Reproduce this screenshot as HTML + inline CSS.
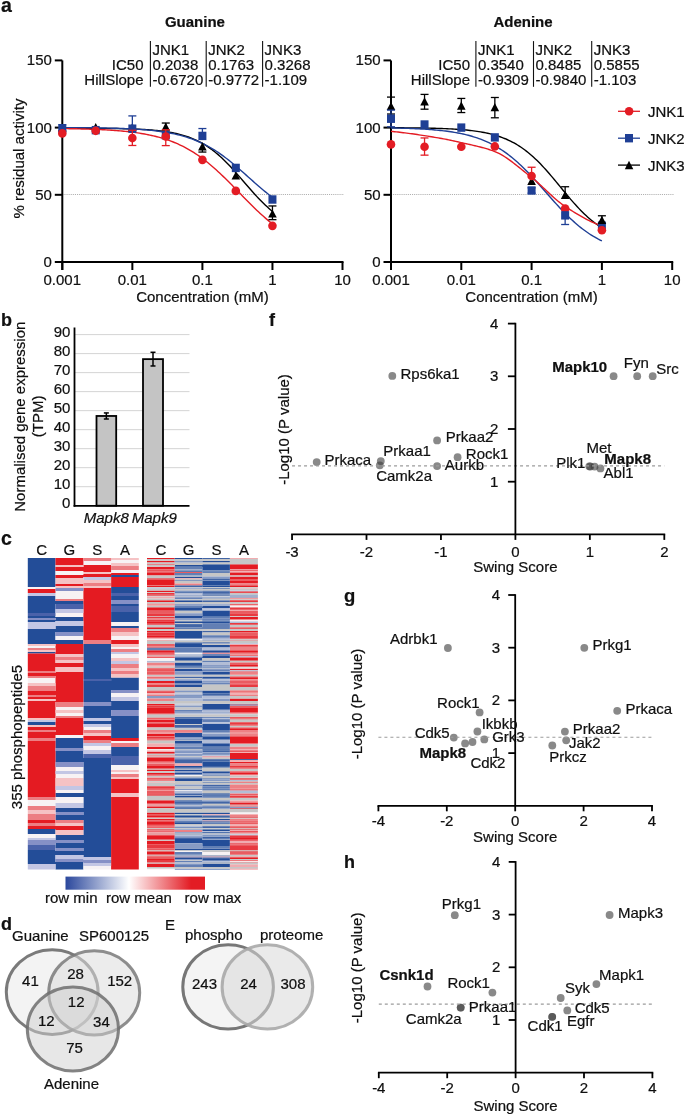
<!DOCTYPE html>
<html><head><meta charset="utf-8"><style>html,body{margin:0;padding:0;background:#fff;}svg{display:block;will-change:transform;}text{font-family:"Liberation Sans", sans-serif;stroke:currentColor;stroke-width:0.2px;}</style></head>
<body><svg width="685" height="1116" viewBox="0 0 685 1116">
<rect width="685" height="1116" fill="#fff"/>
<text x="1" y="12" font-size="19.5" font-weight="bold" fill="#111" stroke="#111">a</text>
<text x="23.8" y="158.6" font-size="15" text-anchor="middle" fill="#111" stroke="#111" transform="rotate(-90 23.8 158.6)">% residual activity</text>
<text x="194.89999999999998" y="27.3" font-size="15" text-anchor="middle" font-weight="bold" fill="#111" stroke="#111">Guanine</text>
<line x1="150.4" y1="41.1" x2="150.4" y2="86.8" stroke="#111" stroke-width="1.1"/>
<line x1="206.2" y1="41.1" x2="206.2" y2="86.8" stroke="#111" stroke-width="1.1"/>
<line x1="262.6" y1="41.1" x2="262.6" y2="86.8" stroke="#111" stroke-width="1.1"/>
<text x="143.5" y="69.8" font-size="15" text-anchor="end" fill="#111" stroke="#111">IC50</text>
<text x="143.5" y="84.6" font-size="15" text-anchor="end" fill="#111" stroke="#111">HillSlope</text>
<text x="152.4" y="55.2" font-size="15" fill="#111" stroke="#111">JNK1</text>
<text x="152.4" y="69.8" font-size="15" fill="#111" stroke="#111">0.2038</text>
<text x="152.4" y="84.6" font-size="15" fill="#111" stroke="#111">-0.6720</text>
<text x="208.2" y="55.2" font-size="15" fill="#111" stroke="#111">JNK2</text>
<text x="208.2" y="69.8" font-size="15" fill="#111" stroke="#111">0.1763</text>
<text x="208.2" y="84.6" font-size="15" fill="#111" stroke="#111">-0.9772</text>
<text x="264.6" y="55.2" font-size="15" fill="#111" stroke="#111">JNK3</text>
<text x="264.6" y="69.8" font-size="15" fill="#111" stroke="#111">0.3268</text>
<text x="264.6" y="84.6" font-size="15" fill="#111" stroke="#111">-1.109</text>
<line x1="62.3" y1="194.5" x2="344.0" y2="194.5" stroke="#b0b0b0" stroke-width="1.1" stroke-dasharray="1.1,1.0"/>
<line x1="62.3" y1="60.4" x2="62.3" y2="270.0" stroke="#000" stroke-width="2"/>
<line x1="61.3" y1="262.0" x2="343.5" y2="262.0" stroke="#000" stroke-width="2"/>
<line x1="54.8" y1="262.0" x2="62.3" y2="262.0" stroke="#000" stroke-width="2"/>
<text x="51.9" y="266.9" font-size="15" text-anchor="end" fill="#111" stroke="#111">0</text>
<line x1="54.8" y1="194.8" x2="62.3" y2="194.8" stroke="#000" stroke-width="2"/>
<text x="51.9" y="199.70000000000002" font-size="15" text-anchor="end" fill="#111" stroke="#111">50</text>
<line x1="54.8" y1="127.6" x2="62.3" y2="127.6" stroke="#000" stroke-width="2"/>
<text x="51.9" y="132.5" font-size="15" text-anchor="end" fill="#111" stroke="#111">100</text>
<line x1="54.8" y1="60.39999999999998" x2="62.3" y2="60.39999999999998" stroke="#000" stroke-width="2"/>
<text x="51.9" y="65.29999999999998" font-size="15" text-anchor="end" fill="#111" stroke="#111">150</text>
<line x1="62.3" y1="262.0" x2="62.3" y2="270.0" stroke="#000" stroke-width="2"/>
<text x="62.3" y="285.2" font-size="15" text-anchor="middle" fill="#111" stroke="#111">0.001</text>
<line x1="132.35" y1="262.0" x2="132.35" y2="270.0" stroke="#000" stroke-width="2"/>
<text x="132.35" y="285.2" font-size="15" text-anchor="middle" fill="#111" stroke="#111">0.01</text>
<line x1="202.39999999999998" y1="262.0" x2="202.39999999999998" y2="270.0" stroke="#000" stroke-width="2"/>
<text x="202.39999999999998" y="285.2" font-size="15" text-anchor="middle" fill="#111" stroke="#111">0.1</text>
<line x1="272.45" y1="262.0" x2="272.45" y2="270.0" stroke="#000" stroke-width="2"/>
<text x="272.45" y="285.2" font-size="15" text-anchor="middle" fill="#111" stroke="#111">1</text>
<line x1="342.5" y1="262.0" x2="342.5" y2="270.0" stroke="#000" stroke-width="2"/>
<text x="342.5" y="285.2" font-size="15" text-anchor="middle" fill="#111" stroke="#111">10</text>
<text x="202.39999999999998" y="301.5" font-size="15" text-anchor="middle" fill="#111" stroke="#111">Concentration (mM)</text>
<polyline points="62.30,128.15 64.05,128.15 65.80,128.16 67.55,128.16 69.31,128.16 71.06,128.17 72.81,128.17 74.56,128.18 76.31,128.18 78.06,128.19 79.81,128.20 81.56,128.20 83.31,128.21 85.07,128.22 86.82,128.23 88.57,128.24 90.32,128.25 92.07,128.26 93.82,128.27 95.57,128.28 97.32,128.30 99.08,128.31 100.83,128.33 102.58,128.34 104.33,128.36 106.08,128.38 107.83,128.40 109.58,128.43 111.34,128.45 113.09,128.48 114.84,128.51 116.59,128.54 118.34,128.57 120.09,128.61 121.84,128.65 123.59,128.69 125.34,128.74 127.10,128.79 128.85,128.84 130.60,128.90 132.35,128.96 134.10,129.02 135.85,129.10 137.60,129.17 139.36,129.26 141.11,129.35 142.86,129.44 144.61,129.55 146.36,129.66 148.11,129.78 149.86,129.91 151.61,130.05 153.37,130.20 155.12,130.36 156.87,130.53 158.62,130.72 160.37,130.92 162.12,131.13 163.87,131.36 165.62,131.61 167.38,131.88 169.13,132.16 170.88,132.47 172.63,132.80 174.38,133.15 176.13,133.53 177.88,133.93 179.63,134.36 181.38,134.83 183.14,135.32 184.89,135.85 186.64,136.41 188.39,137.01 190.14,137.65 191.89,138.33 193.64,139.06 195.39,139.82 197.15,140.64 198.90,141.50 200.65,142.42 202.40,143.39 204.15,144.41 205.90,145.49 207.65,146.62 209.40,147.81 211.16,149.06 212.91,150.37 214.66,151.74 216.41,153.17 218.16,154.65 219.91,156.20 221.66,157.80 223.42,159.46 225.17,161.17 226.92,162.93 228.67,164.74 230.42,166.59 232.17,168.48 233.92,170.41 235.67,172.37 237.43,174.36 239.18,176.37 240.93,178.39 242.68,180.42 244.43,182.46 246.18,184.49 247.93,186.52 249.68,188.54 251.44,190.53 253.19,192.50 254.94,194.44 256.69,196.35 258.44,198.21 260.19,200.04 261.94,201.82 263.69,203.55 265.44,205.22 267.20,206.85 268.95,208.41 270.70,209.92 272.45,211.37" fill="none" stroke="#000" stroke-width="1.4"/>
<polyline points="62.30,127.59 64.05,127.60 65.80,127.61 67.55,127.62 69.31,127.63 71.06,127.64 72.81,127.65 74.56,127.66 76.31,127.67 78.06,127.69 79.81,127.70 81.56,127.71 83.31,127.73 85.07,127.75 86.82,127.76 88.57,127.78 90.32,127.80 92.07,127.83 93.82,127.85 95.57,127.87 97.32,127.90 99.08,127.93 100.83,127.96 102.58,127.99 104.33,128.02 106.08,128.06 107.83,128.10 109.58,128.14 111.34,128.18 113.09,128.22 114.84,128.27 116.59,128.32 118.34,128.38 120.09,128.44 121.84,128.50 123.59,128.57 125.34,128.64 127.10,128.71 128.85,128.79 130.60,128.88 132.35,128.97 134.10,129.06 135.85,129.16 137.60,129.27 139.36,129.39 141.11,129.51 142.86,129.64 144.61,129.78 146.36,129.92 148.11,130.08 149.86,130.24 151.61,130.42 153.37,130.60 155.12,130.80 156.87,131.01 158.62,131.23 160.37,131.47 162.12,131.72 163.87,131.98 165.62,132.26 167.38,132.55 169.13,132.87 170.88,133.20 172.63,133.55 174.38,133.92 176.13,134.31 177.88,134.72 179.63,135.16 181.38,135.61 183.14,136.10 184.89,136.61 186.64,137.15 188.39,137.71 190.14,138.30 191.89,138.93 193.64,139.58 195.39,140.27 197.15,140.99 198.90,141.74 200.65,142.53 202.40,143.35 204.15,144.21 205.90,145.11 207.65,146.04 209.40,147.01 211.16,148.02 212.91,149.07 214.66,150.15 216.41,151.28 218.16,152.44 219.91,153.63 221.66,154.87 223.42,156.14 225.17,157.44 226.92,158.78 228.67,160.15 230.42,161.54 232.17,162.97 233.92,164.42 235.67,165.90 237.43,167.40 239.18,168.91 240.93,170.44 242.68,171.99 244.43,173.55 246.18,175.11 247.93,176.68 249.68,178.24 251.44,179.81 253.19,181.37 254.94,182.93 256.69,184.47 258.44,186.00 260.19,187.51 261.94,189.00 263.69,190.47 265.44,191.91 267.20,193.33 268.95,194.72 270.70,196.08 272.45,197.41" fill="none" stroke="#1f3f95" stroke-width="1.4"/>
<polyline points="62.30,128.57 64.05,128.59 65.80,128.62 67.55,128.65 69.31,128.68 71.06,128.71 72.81,128.74 74.56,128.78 76.31,128.82 78.06,128.85 79.81,128.90 81.56,128.94 83.31,128.99 85.07,129.04 86.82,129.09 88.57,129.15 90.32,129.20 92.07,129.27 93.82,129.33 95.57,129.40 97.32,129.47 99.08,129.55 100.83,129.63 102.58,129.72 104.33,129.81 106.08,129.91 107.83,130.01 109.58,130.11 111.34,130.23 113.09,130.35 114.84,130.47 116.59,130.61 118.34,130.75 120.09,130.89 121.84,131.05 123.59,131.22 125.34,131.39 127.10,131.57 128.85,131.77 130.60,131.97 132.35,132.19 134.10,132.41 135.85,132.65 137.60,132.90 139.36,133.17 141.11,133.45 142.86,133.74 144.61,134.05 146.36,134.38 148.11,134.72 149.86,135.08 151.61,135.46 153.37,135.86 155.12,136.28 156.87,136.72 158.62,137.18 160.37,137.67 162.12,138.17 163.87,138.71 165.62,139.27 167.38,139.85 169.13,140.46 170.88,141.10 172.63,141.77 174.38,142.48 176.13,143.21 177.88,143.97 179.63,144.77 181.38,145.60 183.14,146.47 184.89,147.37 186.64,148.31 188.39,149.28 190.14,150.29 191.89,151.34 193.64,152.43 195.39,153.56 197.15,154.72 198.90,155.93 200.65,157.17 202.40,158.45 204.15,159.77 205.90,161.13 207.65,162.53 209.40,163.96 211.16,165.43 212.91,166.94 214.66,168.48 216.41,170.05 218.16,171.65 219.91,173.29 221.66,174.95 223.42,176.63 225.17,178.34 226.92,180.07 228.67,181.82 230.42,183.58 232.17,185.36 233.92,187.15 235.67,188.95 237.43,190.75 239.18,192.55 240.93,194.36 242.68,196.16 244.43,197.96 246.18,199.75 247.93,201.52 249.68,203.28 251.44,205.03 253.19,206.76 254.94,208.46 256.69,210.14 258.44,211.80 260.19,213.42 261.94,215.02 263.69,216.59 265.44,218.12 267.20,219.62 268.95,221.09 270.70,222.51 272.45,223.91" fill="none" stroke="#e31c24" stroke-width="1.4"/>
<path d="M62.30,123.00L66.60,131.20L58.00,131.20Z" fill="#000"/>
<line x1="62.3" y1="124.64319999999998" x2="62.3" y2="131.36319999999998" stroke="#1f3f95" stroke-width="1.3"/>
<line x1="58.3" y1="124.64319999999998" x2="66.3" y2="124.64319999999998" stroke="#1f3f95" stroke-width="1.3"/>
<line x1="58.3" y1="131.36319999999998" x2="66.3" y2="131.36319999999998" stroke="#1f3f95" stroke-width="1.3"/>
<rect x="58.30" y="124.48" width="8" height="8.4" fill="#1f3f95"/>
<circle cx="62.30" cy="133.38" r="4.3" fill="#e31c24"/>
<path d="M95.72,123.00L100.02,131.20L91.42,131.20Z" fill="#000"/>
<rect x="91.72" y="125.95" width="8" height="8.4" fill="#1f3f95"/>
<circle cx="95.72" cy="130.83" r="4.3" fill="#e31c24"/>
<path d="M132.35,123.00L136.65,131.20L128.05,131.20Z" fill="#000"/>
<line x1="132.35" y1="115.90719999999999" x2="132.35" y2="128.6752" stroke="#1f3f95" stroke-width="1.3"/>
<line x1="128.35" y1="115.90719999999999" x2="136.35" y2="115.90719999999999" stroke="#1f3f95" stroke-width="1.3"/>
<rect x="128.35" y="124.48" width="8" height="8.4" fill="#1f3f95"/>
<line x1="132.35" y1="130.28799999999998" x2="132.35" y2="145.47519999999997" stroke="#e31c24" stroke-width="1.3"/>
<line x1="128.35" y1="130.28799999999998" x2="136.35" y2="130.28799999999998" stroke="#e31c24" stroke-width="1.3"/>
<line x1="128.35" y1="145.47519999999997" x2="136.35" y2="145.47519999999997" stroke="#e31c24" stroke-width="1.3"/>
<circle cx="132.35" cy="138.08" r="4.3" fill="#e31c24"/>
<line x1="165.77234389311235" y1="123.03039999999999" x2="165.77234389311235" y2="127.0624" stroke="#000" stroke-width="1.3"/>
<line x1="161.77234389311235" y1="123.03039999999999" x2="169.77234389311235" y2="123.03039999999999" stroke="#000" stroke-width="1.3"/>
<path d="M165.77,122.46L170.07,130.66L161.47,130.66Z" fill="#000"/>
<rect x="161.77" y="131.06" width="8" height="8.4" fill="#1f3f95"/>
<line x1="165.77234389311235" y1="129.75039999999998" x2="165.77234389311235" y2="145.6096" stroke="#e31c24" stroke-width="1.3"/>
<line x1="161.77234389311235" y1="129.75039999999998" x2="169.77234389311235" y2="129.75039999999998" stroke="#e31c24" stroke-width="1.3"/>
<line x1="161.77234389311235" y1="145.6096" x2="169.77234389311235" y2="145.6096" stroke="#e31c24" stroke-width="1.3"/>
<circle cx="165.77" cy="136.47" r="4.3" fill="#e31c24"/>
<line x1="202.39999999999998" y1="146.9536" x2="202.39999999999998" y2="152.0608" stroke="#000" stroke-width="1.3"/>
<line x1="198.39999999999998" y1="152.0608" x2="206.39999999999998" y2="152.0608" stroke="#000" stroke-width="1.3"/>
<path d="M202.40,142.35L206.70,150.55L198.10,150.55Z" fill="#000"/>
<line x1="202.39999999999998" y1="128.5408" x2="202.39999999999998" y2="135.9328" stroke="#1f3f95" stroke-width="1.3"/>
<line x1="198.39999999999998" y1="128.5408" x2="206.39999999999998" y2="128.5408" stroke="#1f3f95" stroke-width="1.3"/>
<rect x="198.40" y="131.73" width="8" height="8.4" fill="#1f3f95"/>
<circle cx="202.40" cy="159.86" r="4.3" fill="#e31c24"/>
<path d="M235.82,171.38L240.12,179.58L231.52,179.58Z" fill="#000"/>
<rect x="231.82" y="163.72" width="8" height="8.4" fill="#1f3f95"/>
<circle cx="235.82" cy="190.90" r="4.3" fill="#e31c24"/>
<line x1="272.45" y1="205.9552" x2="272.45" y2="219.664" stroke="#000" stroke-width="1.3"/>
<line x1="268.45" y1="205.9552" x2="276.45" y2="205.9552" stroke="#000" stroke-width="1.3"/>
<line x1="268.45" y1="219.664" x2="276.45" y2="219.664" stroke="#000" stroke-width="1.3"/>
<path d="M272.45,209.42L276.75,217.62L268.15,217.62Z" fill="#000"/>
<rect x="268.45" y="195.30" width="8" height="8.4" fill="#1f3f95"/>
<circle cx="272.45" cy="225.85" r="4.3" fill="#e31c24"/>
<text x="523.0" y="27.3" font-size="15" text-anchor="middle" font-weight="bold" fill="#111" stroke="#111">Adenine</text>
<line x1="475.9" y1="41.1" x2="475.9" y2="86.8" stroke="#111" stroke-width="1.1"/>
<line x1="533.5" y1="41.1" x2="533.5" y2="86.8" stroke="#111" stroke-width="1.1"/>
<line x1="591.7" y1="41.1" x2="591.7" y2="86.8" stroke="#111" stroke-width="1.1"/>
<text x="470" y="69.8" font-size="15" text-anchor="end" fill="#111" stroke="#111">IC50</text>
<text x="470" y="84.6" font-size="15" text-anchor="end" fill="#111" stroke="#111">HillSlope</text>
<text x="477.9" y="55.2" font-size="15" fill="#111" stroke="#111">JNK1</text>
<text x="477.9" y="69.8" font-size="15" fill="#111" stroke="#111">0.3540</text>
<text x="477.9" y="84.6" font-size="15" fill="#111" stroke="#111">-0.9309</text>
<text x="535.5" y="55.2" font-size="15" fill="#111" stroke="#111">JNK2</text>
<text x="535.5" y="69.8" font-size="15" fill="#111" stroke="#111">0.8485</text>
<text x="535.5" y="84.6" font-size="15" fill="#111" stroke="#111">-0.9840</text>
<text x="593.7" y="55.2" font-size="15" fill="#111" stroke="#111">JNK3</text>
<text x="593.7" y="69.8" font-size="15" fill="#111" stroke="#111">0.5855</text>
<text x="593.7" y="84.6" font-size="15" fill="#111" stroke="#111">-1.103</text>
<line x1="391" y1="194.5" x2="673.7" y2="194.5" stroke="#b0b0b0" stroke-width="1.1" stroke-dasharray="1.1,1.0"/>
<line x1="391" y1="60.4" x2="391" y2="270.0" stroke="#000" stroke-width="2"/>
<line x1="390" y1="262.0" x2="673.2" y2="262.0" stroke="#000" stroke-width="2"/>
<line x1="383.5" y1="262.0" x2="391" y2="262.0" stroke="#000" stroke-width="2"/>
<text x="380.6" y="266.9" font-size="15" text-anchor="end" fill="#111" stroke="#111">0</text>
<line x1="383.5" y1="194.8" x2="391" y2="194.8" stroke="#000" stroke-width="2"/>
<text x="380.6" y="199.70000000000002" font-size="15" text-anchor="end" fill="#111" stroke="#111">50</text>
<line x1="383.5" y1="127.6" x2="391" y2="127.6" stroke="#000" stroke-width="2"/>
<text x="380.6" y="132.5" font-size="15" text-anchor="end" fill="#111" stroke="#111">100</text>
<line x1="383.5" y1="60.39999999999998" x2="391" y2="60.39999999999998" stroke="#000" stroke-width="2"/>
<text x="380.6" y="65.29999999999998" font-size="15" text-anchor="end" fill="#111" stroke="#111">150</text>
<line x1="391.0" y1="262.0" x2="391.0" y2="270.0" stroke="#000" stroke-width="2"/>
<text x="391.0" y="285.2" font-size="15" text-anchor="middle" fill="#111" stroke="#111">0.001</text>
<line x1="461.3" y1="262.0" x2="461.3" y2="270.0" stroke="#000" stroke-width="2"/>
<text x="461.3" y="285.2" font-size="15" text-anchor="middle" fill="#111" stroke="#111">0.01</text>
<line x1="531.6" y1="262.0" x2="531.6" y2="270.0" stroke="#000" stroke-width="2"/>
<text x="531.6" y="285.2" font-size="15" text-anchor="middle" fill="#111" stroke="#111">0.1</text>
<line x1="601.9" y1="262.0" x2="601.9" y2="270.0" stroke="#000" stroke-width="2"/>
<text x="601.9" y="285.2" font-size="15" text-anchor="middle" fill="#111" stroke="#111">1</text>
<line x1="672.2" y1="262.0" x2="672.2" y2="270.0" stroke="#000" stroke-width="2"/>
<text x="672.2" y="285.2" font-size="15" text-anchor="middle" fill="#111" stroke="#111">10</text>
<text x="531.6" y="301.5" font-size="15" text-anchor="middle" fill="#111" stroke="#111">Concentration (mM)</text>
<polyline points="391.00,127.74 392.76,127.75 394.51,127.76 396.27,127.77 398.03,127.78 399.79,127.79 401.55,127.80 403.30,127.82 405.06,127.83 406.82,127.85 408.57,127.86 410.33,127.88 412.09,127.90 413.85,127.92 415.61,127.94 417.36,127.96 419.12,127.98 420.88,128.01 422.63,128.04 424.39,128.07 426.15,128.10 427.91,128.14 429.66,128.17 431.42,128.21 433.18,128.26 434.94,128.30 436.69,128.35 438.45,128.41 440.21,128.47 441.97,128.53 443.73,128.59 445.48,128.67 447.24,128.74 449.00,128.83 450.75,128.91 452.51,129.01 454.27,129.11 456.03,129.22 457.79,129.34 459.54,129.46 461.30,129.60 463.06,129.75 464.81,129.90 466.57,130.07 468.33,130.25 470.09,130.44 471.85,130.64 473.60,130.86 475.36,131.10 477.12,131.35 478.88,131.62 480.63,131.91 482.39,132.22 484.15,132.55 485.90,132.91 487.66,133.28 489.42,133.69 491.18,134.12 492.94,134.58 494.69,135.06 496.45,135.59 498.21,136.14 499.97,136.73 501.72,137.36 503.48,138.03 505.24,138.73 507.00,139.49 508.75,140.28 510.51,141.12 512.27,142.02 514.02,142.96 515.78,143.95 517.54,145.00 519.30,146.10 521.06,147.26 522.81,148.47 524.57,149.75 526.33,151.08 528.09,152.47 529.84,153.93 531.60,155.44 533.36,157.01 535.12,158.64 536.87,160.33 538.63,162.07 540.39,163.86 542.14,165.71 543.90,167.61 545.66,169.55 547.42,171.53 549.17,173.54 550.93,175.60 552.69,177.67 554.45,179.78 556.21,181.90 557.96,184.03 559.72,186.17 561.48,188.31 563.24,190.45 564.99,192.57 566.75,194.69 568.51,196.78 570.26,198.84 572.02,200.88 573.78,202.88 575.54,204.84 577.30,206.75 579.05,208.62 580.81,210.44 582.57,212.21 584.33,213.93 586.08,215.58 587.84,217.18 589.60,218.72 591.36,220.20 593.11,221.63 594.87,222.99 596.63,224.29 598.38,225.53 600.14,226.72 601.90,227.85" fill="none" stroke="#000" stroke-width="1.4"/>
<polyline points="391.00,127.94 392.76,127.97 394.51,128.01 396.27,128.05 398.03,128.09 399.79,128.14 401.55,128.18 403.30,128.24 405.06,128.29 406.82,128.35 408.57,128.41 410.33,128.47 412.09,128.54 413.85,128.61 415.61,128.69 417.36,128.77 419.12,128.86 420.88,128.95 422.63,129.05 424.39,129.15 426.15,129.26 427.91,129.38 429.66,129.51 431.42,129.64 433.18,129.78 434.94,129.93 436.69,130.09 438.45,130.26 440.21,130.44 441.97,130.63 443.73,130.83 445.48,131.04 447.24,131.27 449.00,131.51 450.75,131.77 452.51,132.04 454.27,132.32 456.03,132.63 457.79,132.95 459.54,133.29 461.30,133.64 463.06,134.02 464.81,134.43 466.57,134.85 468.33,135.30 470.09,135.77 471.85,136.27 473.60,136.80 475.36,137.35 477.12,137.94 478.88,138.56 480.63,139.20 482.39,139.89 484.15,140.61 485.90,141.36 487.66,142.15 489.42,142.98 491.18,143.85 492.94,144.77 494.69,145.72 496.45,146.72 498.21,147.76 499.97,148.85 501.72,149.98 503.48,151.16 505.24,152.39 507.00,153.66 508.75,154.99 510.51,156.36 512.27,157.77 514.02,159.24 515.78,160.75 517.54,162.31 519.30,163.91 521.06,165.56 522.81,167.25 524.57,168.98 526.33,170.75 528.09,172.55 529.84,174.39 531.60,176.26 533.36,178.16 535.12,180.09 536.87,182.03 538.63,184.00 540.39,185.98 542.14,187.97 543.90,189.97 545.66,191.97 547.42,193.97 549.17,195.97 550.93,197.96 552.69,199.94 554.45,201.91 556.21,203.86 557.96,205.78 559.72,207.68 561.48,209.55 563.24,211.39 564.99,213.19 566.75,214.96 568.51,216.69 570.26,218.38 572.02,220.03 573.78,221.63 575.54,223.19 577.30,224.70 579.05,226.17 580.81,227.59 582.57,228.96 584.33,230.28 586.08,231.55 587.84,232.78 589.60,233.96 591.36,235.09 593.11,236.18 594.87,237.22 596.63,238.22 598.38,239.18 600.14,240.09 601.90,240.96" fill="none" stroke="#1f3f95" stroke-width="1.4"/>
<polyline points="391.00,131.36 392.75,131.53 394.50,131.70 396.25,131.88 398.00,132.07 399.75,132.27 401.50,132.47 403.25,132.68 405.00,132.89 406.75,133.11 408.50,133.34 410.25,133.57 412.00,133.81 413.75,134.05 415.50,134.30 417.25,134.56 419.00,134.82 420.75,135.08 422.50,135.35 424.25,135.62 426.00,135.90 427.75,136.17 429.50,136.46 431.25,136.74 433.00,137.03 434.75,137.33 436.50,137.62 438.25,137.92 440.00,138.22 441.75,138.52 443.50,138.85 445.25,139.18 447.00,139.52 448.75,139.88 450.50,140.25 452.25,140.62 454.00,141.00 455.75,141.39 457.50,141.78 459.25,142.18 461.00,142.58 462.75,142.98 464.50,143.38 466.25,143.77 467.99,144.15 469.74,144.54 471.49,144.93 473.24,145.32 474.99,145.72 476.74,146.13 478.49,146.56 480.24,147.00 481.99,147.45 483.74,147.93 485.49,148.42 487.24,148.95 488.99,149.49 490.74,150.07 492.49,150.68 494.24,151.33 495.99,152.03 497.74,152.82 499.49,153.69 501.24,154.64 502.99,155.67 504.74,156.75 506.49,157.90 508.24,159.10 509.99,160.35 511.74,161.64 513.49,162.97 515.24,164.33 516.99,165.71 518.74,167.11 520.49,168.53 522.24,169.95 523.99,171.37 525.74,172.79 527.49,174.20 529.24,175.60 530.99,176.97 532.74,178.35 534.49,179.80 536.24,181.31 537.99,182.85 539.74,184.44 541.49,186.05 543.24,187.68 544.99,189.33 546.74,190.98 548.49,192.62 550.24,194.25 551.99,195.86 553.74,197.44 555.49,198.98 557.24,200.48 558.99,201.92 560.74,203.29 562.49,204.60 564.24,205.83 565.99,207.00 567.74,208.15 569.49,209.29 571.24,210.41 572.99,211.51 574.74,212.59 576.49,213.65 578.24,214.70 579.99,215.71 581.74,216.71 583.49,217.68 585.24,218.63 586.99,219.55 588.74,220.44 590.49,221.31 592.24,222.14 593.99,222.95 595.74,223.72 597.49,224.46 599.24,225.17 600.99,225.85" fill="none" stroke="#e31c24" stroke-width="1.4"/>
<circle cx="391.00" cy="144.40" r="4.3" fill="#e31c24"/>
<line x1="391.0" y1="97.09119999999999" x2="391.0" y2="114.02559999999997" stroke="#000" stroke-width="1.3"/>
<line x1="387.0" y1="97.09119999999999" x2="395.0" y2="97.09119999999999" stroke="#000" stroke-width="1.3"/>
<line x1="387.0" y1="114.02559999999997" x2="395.0" y2="114.02559999999997" stroke="#000" stroke-width="1.3"/>
<path d="M391.00,101.90L395.30,110.10L386.70,110.10Z" fill="#000"/>
<line x1="391.0" y1="110.12799999999999" x2="391.0" y2="126.7936" stroke="#1f3f95" stroke-width="1.3"/>
<line x1="387.0" y1="110.12799999999999" x2="395.0" y2="110.12799999999999" stroke="#1f3f95" stroke-width="1.3"/>
<line x1="387.0" y1="126.7936" x2="395.0" y2="126.7936" stroke="#1f3f95" stroke-width="1.3"/>
<rect x="387.00" y="114.53" width="8" height="8.4" fill="#1f3f95"/>
<line x1="424.5416242067923" y1="137.9488" x2="424.5416242067923" y2="155.152" stroke="#e31c24" stroke-width="1.3"/>
<line x1="420.5416242067923" y1="137.9488" x2="428.5416242067923" y2="137.9488" stroke="#e31c24" stroke-width="1.3"/>
<line x1="420.5416242067923" y1="155.152" x2="428.5416242067923" y2="155.152" stroke="#e31c24" stroke-width="1.3"/>
<circle cx="424.54" cy="146.68" r="4.3" fill="#e31c24"/>
<rect x="420.54" y="120.31" width="8" height="8.4" fill="#1f3f95"/>
<line x1="424.5416242067923" y1="94.4032" x2="424.5416242067923" y2="109.18719999999999" stroke="#000" stroke-width="1.3"/>
<line x1="420.5416242067923" y1="94.4032" x2="428.5416242067923" y2="94.4032" stroke="#000" stroke-width="1.3"/>
<line x1="420.5416242067923" y1="109.18719999999999" x2="428.5416242067923" y2="109.18719999999999" stroke="#000" stroke-width="1.3"/>
<path d="M424.54,97.20L428.84,105.40L420.24,105.40Z" fill="#000"/>
<circle cx="461.30" cy="146.68" r="4.3" fill="#e31c24"/>
<rect x="457.30" y="123.40" width="8" height="8.4" fill="#1f3f95"/>
<line x1="461.3" y1="98.43519999999998" x2="461.3" y2="112.54719999999998" stroke="#000" stroke-width="1.3"/>
<line x1="457.3" y1="98.43519999999998" x2="465.3" y2="98.43519999999998" stroke="#000" stroke-width="1.3"/>
<line x1="457.3" y1="112.54719999999998" x2="465.3" y2="112.54719999999998" stroke="#000" stroke-width="1.3"/>
<path d="M461.30,101.50L465.60,109.70L457.00,109.70Z" fill="#000"/>
<circle cx="494.84" cy="146.42" r="4.3" fill="#e31c24"/>
<rect x="490.84" y="133.21" width="8" height="8.4" fill="#1f3f95"/>
<line x1="494.8416242067923" y1="97.49440000000001" x2="494.8416242067923" y2="117.78880000000001" stroke="#000" stroke-width="1.3"/>
<line x1="490.8416242067923" y1="97.49440000000001" x2="498.8416242067923" y2="97.49440000000001" stroke="#000" stroke-width="1.3"/>
<line x1="490.8416242067923" y1="117.78880000000001" x2="498.8416242067923" y2="117.78880000000001" stroke="#000" stroke-width="1.3"/>
<path d="M494.84,103.11L499.14,111.31L490.54,111.31Z" fill="#000"/>
<line x1="531.6" y1="187.81119999999999" x2="531.6" y2="193.1872" stroke="#1f3f95" stroke-width="1.3"/>
<line x1="527.6" y1="187.81119999999999" x2="535.6" y2="187.81119999999999" stroke="#1f3f95" stroke-width="1.3"/>
<line x1="527.6" y1="193.1872" x2="535.6" y2="193.1872" stroke="#1f3f95" stroke-width="1.3"/>
<rect x="527.60" y="186.30" width="8" height="8.4" fill="#1f3f95"/>
<path d="M531.60,176.76L535.90,184.96L527.30,184.96Z" fill="#000"/>
<line x1="531.6" y1="167.248" x2="531.6" y2="175.98399999999998" stroke="#e31c24" stroke-width="1.3"/>
<line x1="527.6" y1="167.248" x2="535.6" y2="167.248" stroke="#e31c24" stroke-width="1.3"/>
<circle cx="531.60" cy="175.98" r="4.3" fill="#e31c24"/>
<circle cx="565.14" cy="208.64" r="4.3" fill="#e31c24"/>
<line x1="565.1416242067922" y1="215.3632" x2="565.1416242067922" y2="224.5024" stroke="#1f3f95" stroke-width="1.3"/>
<line x1="561.1416242067922" y1="224.5024" x2="569.1416242067922" y2="224.5024" stroke="#1f3f95" stroke-width="1.3"/>
<rect x="561.14" y="211.16" width="8" height="8.4" fill="#1f3f95"/>
<line x1="565.1416242067922" y1="186.736" x2="565.1416242067922" y2="195.47199999999998" stroke="#000" stroke-width="1.3"/>
<line x1="561.1416242067922" y1="186.736" x2="569.1416242067922" y2="186.736" stroke="#000" stroke-width="1.3"/>
<path d="M565.14,190.87L569.44,199.07L560.84,199.07Z" fill="#000"/>
<rect x="597.90" y="221.51" width="8" height="8.4" fill="#1f3f95"/>
<line x1="601.9" y1="215.7664" x2="601.9" y2="220.47039999999998" stroke="#000" stroke-width="1.3"/>
<line x1="597.9" y1="215.7664" x2="605.9" y2="215.7664" stroke="#000" stroke-width="1.3"/>
<path d="M601.90,215.87L606.20,224.07L597.60,224.07Z" fill="#000"/>
<circle cx="601.90" cy="230.28" r="4.3" fill="#e31c24"/>
<line x1="618" y1="111.3" x2="640" y2="111.3" stroke="#e31c24" stroke-width="1.3"/>
<circle cx="629.1" cy="111.3" r="4.3" fill="#e31c24"/>
<text x="648" y="116.7" font-size="15" fill="#111" stroke="#111">JNK1</text>
<line x1="618" y1="138.2" x2="640" y2="138.2" stroke="#1f3f95" stroke-width="1.3"/>
<rect x="625" y="134.0" width="8" height="8.4" fill="#1f3f95"/>
<text x="648" y="143.6" font-size="15" fill="#111" stroke="#111">JNK2</text>
<line x1="618" y1="165.1" x2="640" y2="165.1" stroke="#000" stroke-width="1.3"/>
<path d="M629,160.7L633.3,169.29999999999998L624.8,169.29999999999998Z" fill="#000"/>
<text x="648" y="170.5" font-size="15" fill="#111" stroke="#111">JNK3</text>
<text x="1" y="326" font-size="18" font-weight="bold" fill="#111" stroke="#111">b</text>
<line x1="74.5" y1="486.69" x2="189.5" y2="486.69" stroke="#d4d4d4" stroke-width="1"/>
<line x1="74.5" y1="467.68" x2="189.5" y2="467.68" stroke="#d4d4d4" stroke-width="1"/>
<line x1="74.5" y1="448.66999999999996" x2="189.5" y2="448.66999999999996" stroke="#d4d4d4" stroke-width="1"/>
<line x1="74.5" y1="429.65999999999997" x2="189.5" y2="429.65999999999997" stroke="#d4d4d4" stroke-width="1"/>
<line x1="74.5" y1="410.65" x2="189.5" y2="410.65" stroke="#d4d4d4" stroke-width="1"/>
<line x1="74.5" y1="391.64" x2="189.5" y2="391.64" stroke="#d4d4d4" stroke-width="1"/>
<line x1="74.5" y1="372.63" x2="189.5" y2="372.63" stroke="#d4d4d4" stroke-width="1"/>
<line x1="74.5" y1="353.62" x2="189.5" y2="353.62" stroke="#d4d4d4" stroke-width="1"/>
<line x1="74.5" y1="334.61" x2="189.5" y2="334.61" stroke="#d4d4d4" stroke-width="1"/>
<text x="70.4" y="507.7" font-size="15" text-anchor="end" fill="#111" stroke="#111">0</text>
<text x="70.4" y="488.69" font-size="15" text-anchor="end" fill="#111" stroke="#111">10</text>
<text x="70.4" y="469.68" font-size="15" text-anchor="end" fill="#111" stroke="#111">20</text>
<text x="70.4" y="450.66999999999996" font-size="15" text-anchor="end" fill="#111" stroke="#111">30</text>
<text x="70.4" y="431.65999999999997" font-size="15" text-anchor="end" fill="#111" stroke="#111">40</text>
<text x="70.4" y="412.65" font-size="15" text-anchor="end" fill="#111" stroke="#111">50</text>
<text x="70.4" y="393.64" font-size="15" text-anchor="end" fill="#111" stroke="#111">60</text>
<text x="70.4" y="374.63" font-size="15" text-anchor="end" fill="#111" stroke="#111">70</text>
<text x="70.4" y="355.62" font-size="15" text-anchor="end" fill="#111" stroke="#111">80</text>
<text x="70.4" y="336.61" font-size="15" text-anchor="end" fill="#111" stroke="#111">90</text>
<rect x="96.5" y="415.97" width="19.700000000000003" height="89.73" fill="#c4c4c4" stroke="#000" stroke-width="1.8"/>
<line x1="106.35" y1="412.9312" x2="106.35" y2="419.01439999999997" stroke="#000" stroke-width="1.5"/>
<line x1="103.85" y1="412.9312" x2="108.85" y2="412.9312" stroke="#000" stroke-width="1.5"/>
<line x1="103.85" y1="419.01439999999997" x2="108.85" y2="419.01439999999997" stroke="#000" stroke-width="1.5"/>
<rect x="143" y="359.13" width="20" height="146.57" fill="#c4c4c4" stroke="#000" stroke-width="1.8"/>
<line x1="153.0" y1="352.2893" x2="153.0" y2="365.9765" stroke="#000" stroke-width="1.5"/>
<line x1="150.5" y1="352.2893" x2="155.5" y2="352.2893" stroke="#000" stroke-width="1.5"/>
<line x1="150.5" y1="365.9765" x2="155.5" y2="365.9765" stroke="#000" stroke-width="1.5"/>
<line x1="74.5" y1="327.5" x2="74.5" y2="506.7" stroke="#000" stroke-width="1.8"/>
<line x1="73.6" y1="505.9" x2="189.5" y2="505.9" stroke="#000" stroke-width="1.8"/>
<text x="106.3" y="522.8" font-size="15" text-anchor="middle" font-style="italic" fill="#111" stroke="#111">Mapk8</text>
<text x="154.3" y="522.8" font-size="15" text-anchor="middle" font-style="italic" fill="#111" stroke="#111">Mapk9</text>
<text x="24.6" y="416.7" font-size="15" text-anchor="middle" fill="#111" stroke="#111" transform="rotate(-90 24.6 416.7)">Normalised gene expression</text>
<text x="43" y="416.3" font-size="15" text-anchor="middle" fill="#111" stroke="#111" transform="rotate(-90 43 416.3)">(TPM)</text>
<text x="1" y="544.5" font-size="19.5" font-weight="bold" fill="#111" stroke="#111">c</text>
<text x="41.7" y="554.6" font-size="15" text-anchor="middle" fill="#111" stroke="#111">C</text>
<text x="161.0" y="554.6" font-size="15" text-anchor="middle" fill="#111" stroke="#111">C</text>
<text x="69.45" y="554.6" font-size="15" text-anchor="middle" fill="#111" stroke="#111">G</text>
<text x="188.7" y="554.6" font-size="15" text-anchor="middle" fill="#111" stroke="#111">G</text>
<text x="97.2" y="554.6" font-size="15" text-anchor="middle" fill="#111" stroke="#111">S</text>
<text x="216.4" y="554.6" font-size="15" text-anchor="middle" fill="#111" stroke="#111">S</text>
<text x="124.95" y="554.6" font-size="15" text-anchor="middle" fill="#111" stroke="#111">A</text>
<text x="244.1" y="554.6" font-size="15" text-anchor="middle" fill="#111" stroke="#111">A</text>
<path d="M27.8 558.0h27.7v29.0h-27.7zM27.8 596.0h27.7v17.0h-27.7zM27.8 616.0h27.7v2.0h-27.7zM27.8 620.0h27.7v2.0h-27.7zM27.8 629.0h27.7v15.0h-27.7zM27.8 652.0h27.7v1.5h-27.7zM27.8 722.0h27.7v3.0h-27.7zM27.8 829.0h27.7v5.0h-27.7zM27.8 850.0h27.7v14.0h-27.7zM55.5 601.0h27.9v3.0h-27.9zM55.5 617.0h27.9v4.0h-27.9zM55.5 626.0h27.9v6.0h-27.9zM55.5 640.0h27.9v4.0h-27.9zM55.5 738.0h27.9v10.0h-27.9zM55.5 751.0h27.9v11.0h-27.9zM55.5 793.0h27.9v4.0h-27.9zM55.5 808.0h27.9v4.0h-27.9zM55.5 815.0h27.9v5.0h-27.9zM55.5 835.0h27.9v5.0h-27.9zM55.5 843.0h27.9v5.0h-27.9zM55.5 851.0h27.9v4.0h-27.9zM55.5 862.0h27.9v7.6h-27.9zM83.4 644.0h27.7v35.0h-27.7zM83.4 681.0h27.7v21.0h-27.7zM83.4 706.0h27.7v12.0h-27.7zM83.4 721.0h27.7v3.0h-27.7zM83.4 758.0h27.7v99.0h-27.7zM111.1 575.0h27.7v2.0h-27.7zM111.1 587.0h27.7v6.0h-27.7zM111.1 596.0h27.7v4.0h-27.7zM111.1 604.0h27.7v2.0h-27.7zM111.1 612.0h27.7v10.0h-27.7zM111.1 626.0h27.7v2.0h-27.7zM111.1 677.5h27.7v12.5h-27.7zM111.1 701.0h27.7v9.0h-27.7zM111.1 716.0h27.7v22.0h-27.7zM111.1 747.0h27.7v9.0h-27.7z" fill="#234d98"/>
<path d="M27.8 587.0h27.7v2.0h-27.7zM27.8 646.0h27.7v2.0h-27.7zM27.8 678.0h27.7v5.0h-27.7zM27.8 800.0h27.7v6.0h-27.7zM27.8 834.0h27.7v4.0h-27.7zM55.5 571.0h27.9v4.0h-27.9zM55.5 591.0h27.9v8.0h-27.9zM55.5 613.0h27.9v4.0h-27.9zM55.5 636.0h27.9v4.0h-27.9zM55.5 707.0h27.9v3.0h-27.9zM55.5 713.0h27.9v3.0h-27.9zM55.5 735.0h27.9v3.0h-27.9zM55.5 767.0h27.9v4.0h-27.9zM55.5 774.0h27.9v4.0h-27.9zM55.5 790.0h27.9v3.0h-27.9zM55.5 797.0h27.9v6.0h-27.9zM83.4 561.0h27.7v4.0h-27.7zM83.4 727.0h27.7v3.0h-27.7zM83.4 746.0h27.7v4.0h-27.7zM83.4 866.0h27.7v3.6h-27.7zM111.1 560.0h27.7v3.0h-27.7zM111.1 570.0h27.7v3.0h-27.7zM111.1 622.0h27.7v4.0h-27.7zM111.1 636.0h27.7v4.0h-27.7zM111.1 647.0h27.7v2.0h-27.7zM111.1 654.0h27.7v4.0h-27.7zM111.1 693.0h27.7v4.0h-27.7zM111.1 741.0h27.7v2.0h-27.7zM111.1 765.0h27.7v5.0h-27.7zM111.1 772.0h27.7v2.0h-27.7z" fill="#f7f2f4"/>
<path d="M27.8 589.0h27.7v4.0h-27.7zM27.8 653.5h27.7v17.5h-27.7zM27.8 673.0h27.7v3.0h-27.7zM27.8 691.0h27.7v4.0h-27.7zM27.8 697.0h27.7v2.0h-27.7zM27.8 701.0h27.7v17.0h-27.7zM27.8 727.0h27.7v3.0h-27.7zM27.8 732.0h27.7v6.0h-27.7zM27.8 741.0h27.7v56.0h-27.7zM27.8 820.0h27.7v3.0h-27.7zM27.8 826.0h27.7v3.0h-27.7zM55.5 558.0h27.9v7.0h-27.9zM55.5 567.0h27.9v4.0h-27.9zM55.5 575.0h27.9v3.0h-27.9zM55.5 584.0h27.9v2.0h-27.9zM55.5 644.0h27.9v10.0h-27.9zM55.5 663.0h27.9v4.0h-27.9zM55.5 672.0h27.9v30.0h-27.9zM55.5 718.0h27.9v17.0h-27.9zM55.5 826.0h27.9v4.0h-27.9zM83.4 565.0h27.7v7.0h-27.7zM83.4 574.0h27.7v3.0h-27.7zM83.4 588.0h27.7v52.0h-27.7zM83.4 736.0h27.7v4.0h-27.7zM111.1 573.0h27.7v2.0h-27.7zM111.1 577.0h27.7v10.0h-27.7zM111.1 640.0h27.7v4.0h-27.7zM111.1 738.0h27.7v3.0h-27.7zM111.1 779.0h27.7v14.0h-27.7zM111.1 797.0h27.7v72.6h-27.7z" fill="#e41b22"/>
<path d="M27.8 593.0h27.7v3.0h-27.7zM27.8 622.0h27.7v7.0h-27.7zM27.8 720.0h27.7v2.0h-27.7zM27.8 838.0h27.7v2.0h-27.7zM27.8 864.0h27.7v5.6h-27.7zM55.5 609.0h27.9v4.0h-27.9zM55.5 621.0h27.9v5.0h-27.9zM55.5 771.0h27.9v3.0h-27.9zM55.5 786.0h27.9v4.0h-27.9zM55.5 803.0h27.9v5.0h-27.9zM55.5 855.0h27.9v4.0h-27.9zM83.4 577.0h27.7v3.0h-27.7zM83.4 718.0h27.7v3.0h-27.7zM83.4 724.0h27.7v3.0h-27.7zM83.4 743.0h27.7v3.0h-27.7zM83.4 750.0h27.7v4.0h-27.7zM83.4 857.0h27.7v3.0h-27.7zM83.4 863.0h27.7v3.0h-27.7zM111.1 652.0h27.7v2.0h-27.7zM111.1 661.0h27.7v3.0h-27.7zM111.1 697.0h27.7v4.0h-27.7z" fill="#c3c6e4"/>
<path d="M27.8 613.0h27.7v3.0h-27.7zM27.8 845.0h27.7v5.0h-27.7zM55.5 604.0h27.9v5.0h-27.9zM83.4 679.0h27.7v2.0h-27.7zM83.4 754.0h27.7v4.0h-27.7zM111.1 593.0h27.7v3.0h-27.7zM111.1 606.0h27.7v6.0h-27.7zM111.1 756.0h27.7v9.0h-27.7z" fill="#4a62aa"/>
<path d="M27.8 618.0h27.7v2.0h-27.7zM27.8 840.0h27.7v5.0h-27.7zM55.5 588.0h27.9v3.0h-27.9zM55.5 632.0h27.9v4.0h-27.9zM55.5 748.0h27.9v3.0h-27.9zM55.5 762.0h27.9v5.0h-27.9zM55.5 812.0h27.9v3.0h-27.9zM55.5 840.0h27.9v3.0h-27.9zM55.5 848.0h27.9v3.0h-27.9zM55.5 859.0h27.9v3.0h-27.9zM83.4 702.0h27.7v4.0h-27.7zM83.4 860.0h27.7v3.0h-27.7zM111.1 600.0h27.7v4.0h-27.7zM111.1 690.0h27.7v3.0h-27.7zM111.1 710.0h27.7v6.0h-27.7z" fill="#8690c6"/>
<path d="M27.8 644.0h27.7v2.0h-27.7zM27.8 650.0h27.7v2.0h-27.7zM27.8 683.0h27.7v3.0h-27.7zM27.8 699.0h27.7v2.0h-27.7zM27.8 718.0h27.7v2.0h-27.7zM27.8 725.0h27.7v2.0h-27.7zM27.8 810.0h27.7v4.0h-27.7zM55.5 565.0h27.9v2.0h-27.9zM55.5 578.0h27.9v6.0h-27.9zM55.5 586.0h27.9v2.0h-27.9zM55.5 654.0h27.9v3.0h-27.9zM55.5 660.0h27.9v3.0h-27.9zM55.5 667.0h27.9v5.0h-27.9zM55.5 710.0h27.9v3.0h-27.9zM55.5 778.0h27.9v8.0h-27.9zM55.5 823.0h27.9v3.0h-27.9zM55.5 830.0h27.9v5.0h-27.9zM83.4 572.0h27.7v2.0h-27.7zM83.4 580.0h27.7v3.0h-27.7zM83.4 586.0h27.7v2.0h-27.7zM83.4 733.0h27.7v3.0h-27.7zM111.1 558.0h27.7v2.0h-27.7zM111.1 563.0h27.7v3.0h-27.7zM111.1 632.0h27.7v4.0h-27.7zM111.1 644.0h27.7v3.0h-27.7zM111.1 658.0h27.7v3.0h-27.7zM111.1 668.0h27.7v3.0h-27.7zM111.1 674.0h27.7v3.5h-27.7zM111.1 770.0h27.7v2.0h-27.7zM111.1 777.0h27.7v2.0h-27.7zM111.1 793.0h27.7v4.0h-27.7z" fill="#f5c2c4"/>
<path d="M27.8 648.0h27.7v2.0h-27.7zM27.8 671.0h27.7v2.0h-27.7zM27.8 676.0h27.7v2.0h-27.7zM27.8 686.0h27.7v5.0h-27.7zM27.8 695.0h27.7v2.0h-27.7zM27.8 730.0h27.7v2.0h-27.7zM27.8 738.0h27.7v3.0h-27.7zM27.8 797.0h27.7v3.0h-27.7zM27.8 806.0h27.7v4.0h-27.7zM27.8 814.0h27.7v6.0h-27.7zM27.8 823.0h27.7v3.0h-27.7zM55.5 599.0h27.9v2.0h-27.9zM55.5 657.0h27.9v3.0h-27.9zM55.5 702.0h27.9v5.0h-27.9zM55.5 716.0h27.9v2.0h-27.9zM55.5 820.0h27.9v3.0h-27.9zM83.4 558.0h27.7v3.0h-27.7zM83.4 583.0h27.7v3.0h-27.7zM83.4 640.0h27.7v4.0h-27.7zM83.4 730.0h27.7v3.0h-27.7zM83.4 740.0h27.7v3.0h-27.7zM111.1 566.0h27.7v4.0h-27.7zM111.1 628.0h27.7v4.0h-27.7zM111.1 649.0h27.7v3.0h-27.7zM111.1 664.0h27.7v4.0h-27.7zM111.1 671.0h27.7v3.0h-27.7zM111.1 743.0h27.7v4.0h-27.7zM111.1 774.0h27.7v3.0h-27.7z" fill="#ec7e83"/>
<path d="M147.0 558.00h27.7v0.88h-27.7zM147.0 560.63h27.7v1.76h-27.7zM229.9 564.14h28.0v0.88h-28.0zM229.9 565.02h28.0v1.76h-28.0zM147.0 566.78h27.7v2.63h-27.7zM229.9 566.78h28.0v2.63h-28.0zM147.0 570.29h27.7v0.88h-27.7zM229.9 570.29h28.0v0.88h-28.0zM147.0 572.92h27.7v2.63h-27.7zM229.9 572.92h28.0v2.63h-28.0zM229.9 576.43h28.0v1.76h-28.0zM147.0 578.19h27.7v0.88h-27.7zM229.9 578.19h28.0v0.88h-28.0zM147.0 579.94h27.7v0.88h-27.7zM147.0 580.82h27.7v2.63h-27.7zM229.9 580.82h28.0v2.63h-28.0zM147.0 583.45h27.7v1.76h-27.7zM229.9 585.21h28.0v0.88h-28.0zM147.0 586.09h27.7v0.88h-27.7zM229.9 586.09h28.0v0.88h-28.0zM147.0 590.48h27.7v0.88h-27.7zM147.0 591.35h27.7v0.88h-27.7zM229.9 592.23h28.0v0.88h-28.0zM147.0 594.87h27.7v0.88h-27.7zM229.9 598.38h28.0v0.88h-28.0zM147.0 600.13h27.7v1.76h-27.7zM229.9 603.64h28.0v0.88h-28.0zM147.0 607.15h27.7v0.88h-27.7zM147.0 608.03h27.7v1.76h-27.7zM147.0 609.79h27.7v0.88h-27.7zM229.9 616.81h28.0v1.76h-28.0zM229.9 618.56h28.0v0.88h-28.0zM147.0 621.20h27.7v1.76h-27.7zM147.0 622.95h27.7v0.88h-27.7zM147.0 627.34h27.7v1.76h-27.7zM147.0 630.85h27.7v1.76h-27.7zM229.9 630.85h28.0v1.76h-28.0zM147.0 635.24h27.7v2.63h-27.7zM229.9 639.63h28.0v0.88h-28.0zM147.0 644.90h27.7v0.88h-27.7zM147.0 650.16h27.7v2.63h-27.7zM229.9 650.16h28.0v2.63h-28.0zM147.0 654.55h27.7v0.88h-27.7zM229.9 655.43h28.0v0.88h-28.0zM147.0 657.19h27.7v0.88h-27.7zM229.9 658.06h28.0v2.63h-28.0zM229.9 665.09h28.0v1.76h-28.0zM147.0 667.72h27.7v0.88h-27.7zM229.9 668.60h28.0v1.76h-28.0zM147.0 670.35h27.7v0.88h-27.7zM147.0 677.37h27.7v0.88h-27.7zM229.9 677.37h28.0v0.88h-28.0zM229.9 678.25h28.0v0.88h-28.0zM147.0 680.88h27.7v1.76h-27.7zM147.0 682.64h27.7v0.88h-27.7zM229.9 683.52h28.0v0.88h-28.0zM147.0 690.54h27.7v0.88h-27.7zM229.9 691.42h28.0v0.88h-28.0zM147.0 692.30h27.7v0.88h-27.7zM229.9 698.44h28.0v2.63h-28.0zM147.0 703.71h27.7v0.88h-27.7zM229.9 703.71h28.0v0.88h-28.0zM147.0 704.58h27.7v0.88h-27.7zM147.0 707.22h27.7v0.88h-27.7zM147.0 708.09h27.7v1.76h-27.7zM229.9 708.09h28.0v1.76h-28.0zM147.0 709.85h27.7v0.88h-27.7zM229.9 709.85h28.0v0.88h-28.0zM147.0 710.73h27.7v1.76h-27.7zM229.9 710.73h28.0v1.76h-28.0zM147.0 712.48h27.7v0.88h-27.7zM229.9 716.87h28.0v0.88h-28.0zM229.9 718.63h28.0v0.88h-28.0zM147.0 719.51h27.7v2.63h-27.7zM147.0 723.89h27.7v0.88h-27.7zM147.0 724.77h27.7v0.88h-27.7zM147.0 725.65h27.7v1.76h-27.7zM229.9 728.28h28.0v1.76h-28.0zM147.0 733.55h27.7v2.63h-27.7zM229.9 736.18h28.0v0.88h-28.0zM229.9 737.06h28.0v1.76h-28.0zM229.9 738.82h28.0v0.88h-28.0zM147.0 739.69h27.7v0.88h-27.7zM229.9 739.69h28.0v0.88h-28.0zM229.9 740.57h28.0v2.63h-28.0zM147.0 746.72h27.7v2.63h-27.7zM147.0 751.98h27.7v0.88h-27.7zM147.0 752.86h27.7v0.88h-27.7zM229.9 752.86h28.0v0.88h-28.0zM229.9 753.74h28.0v1.76h-28.0zM229.9 755.49h28.0v0.88h-28.0zM229.9 756.37h28.0v0.88h-28.0zM147.0 757.25h27.7v1.76h-27.7zM229.9 757.25h28.0v1.76h-28.0zM147.0 759.00h27.7v0.88h-27.7zM147.0 759.88h27.7v1.76h-27.7zM229.9 761.64h28.0v1.76h-28.0zM147.0 766.03h27.7v1.76h-27.7zM147.0 767.78h27.7v0.88h-27.7zM147.0 769.54h27.7v1.76h-27.7zM147.0 773.05h27.7v1.76h-27.7zM229.9 773.05h28.0v1.76h-28.0zM147.0 778.31h27.7v0.88h-27.7zM147.0 788.85h27.7v0.88h-27.7zM229.9 789.73h28.0v0.88h-28.0zM147.0 794.99h27.7v0.88h-27.7zM147.0 800.26h27.7v0.88h-27.7zM147.0 801.14h27.7v1.76h-27.7zM147.0 802.89h27.7v0.88h-27.7zM229.9 802.89h28.0v0.88h-28.0zM229.9 803.77h28.0v0.88h-28.0zM147.0 806.40h27.7v1.76h-27.7zM229.9 808.16h28.0v0.88h-28.0zM147.0 812.55h27.7v1.76h-27.7zM147.0 815.18h27.7v1.76h-27.7zM229.9 816.94h28.0v0.88h-28.0zM147.0 818.69h27.7v0.88h-27.7zM147.0 819.57h27.7v0.88h-27.7zM147.0 821.32h27.7v0.88h-27.7zM229.9 821.32h28.0v0.88h-28.0zM147.0 822.20h27.7v1.76h-27.7zM229.9 825.71h28.0v0.88h-28.0zM147.0 827.47h27.7v0.88h-27.7zM147.0 829.22h27.7v0.88h-27.7zM229.9 829.22h28.0v0.88h-28.0zM147.0 830.98h27.7v0.88h-27.7zM229.9 830.98h28.0v0.88h-28.0zM147.0 835.37h27.7v0.88h-27.7zM147.0 836.25h27.7v0.88h-27.7zM147.0 837.12h27.7v0.88h-27.7zM147.0 838.00h27.7v0.88h-27.7zM229.9 838.00h28.0v0.88h-28.0zM147.0 838.88h27.7v0.88h-27.7zM229.9 838.88h28.0v0.88h-28.0zM147.0 840.63h27.7v2.63h-27.7zM147.0 843.27h27.7v0.88h-27.7zM229.9 843.27h28.0v0.88h-28.0zM147.0 851.17h27.7v0.88h-27.7zM229.9 851.17h28.0v0.88h-28.0zM147.0 852.05h27.7v2.63h-27.7zM147.0 855.56h27.7v0.88h-27.7zM229.9 857.31h28.0v1.76h-28.0zM147.0 859.07h27.7v0.88h-27.7zM229.9 859.94h28.0v0.88h-28.0zM229.9 861.70h28.0v0.88h-28.0zM147.0 863.46h27.7v0.88h-27.7zM147.0 864.33h27.7v2.63h-27.7z" fill="#e41b22"/>
<path d="M174.7 558.00h27.6v0.88h-27.6zM202.3 560.63h27.6v1.76h-27.6zM202.3 564.14h27.6v0.88h-27.6zM174.7 565.02h27.6v1.76h-27.6zM202.3 565.02h27.6v1.76h-27.6zM202.3 566.78h27.6v2.63h-27.6zM202.3 569.41h27.6v0.88h-27.6zM174.7 571.17h27.6v0.88h-27.6zM174.7 576.43h27.6v1.76h-27.6zM202.3 580.82h27.6v2.63h-27.6zM202.3 583.45h27.6v1.76h-27.6zM202.3 586.09h27.6v0.88h-27.6zM202.3 587.84h27.6v0.88h-27.6zM202.3 590.48h27.6v0.88h-27.6zM174.7 592.23h27.6v0.88h-27.6zM202.3 594.87h27.6v0.88h-27.6zM174.7 597.50h27.6v0.88h-27.6zM202.3 597.50h27.6v0.88h-27.6zM174.7 600.13h27.6v1.76h-27.6zM174.7 603.64h27.6v0.88h-27.6zM202.3 603.64h27.6v0.88h-27.6zM202.3 605.40h27.6v1.76h-27.6zM174.7 607.15h27.6v0.88h-27.6zM202.3 607.15h27.6v0.88h-27.6zM174.7 608.03h27.6v1.76h-27.6zM174.7 609.79h27.6v0.88h-27.6zM202.3 610.66h27.6v2.63h-27.6zM202.3 613.30h27.6v2.63h-27.6zM174.7 615.93h27.6v0.88h-27.6zM202.3 615.93h27.6v0.88h-27.6zM174.7 616.81h27.6v1.76h-27.6zM174.7 619.44h27.6v0.88h-27.6zM202.3 619.44h27.6v0.88h-27.6zM174.7 621.20h27.6v1.76h-27.6zM202.3 621.20h27.6v1.76h-27.6zM174.7 623.83h27.6v0.88h-27.6zM174.7 630.85h27.6v1.76h-27.6zM174.7 632.61h27.6v2.63h-27.6zM174.7 635.24h27.6v2.63h-27.6zM174.7 637.87h27.6v0.88h-27.6zM202.3 639.63h27.6v0.88h-27.6zM202.3 642.26h27.6v0.88h-27.6zM174.7 644.02h27.6v0.88h-27.6zM174.7 644.90h27.6v0.88h-27.6zM202.3 644.90h27.6v0.88h-27.6zM174.7 645.77h27.6v0.88h-27.6zM202.3 645.77h27.6v0.88h-27.6zM174.7 646.65h27.6v0.88h-27.6zM202.3 646.65h27.6v0.88h-27.6zM202.3 650.16h27.6v2.63h-27.6zM202.3 653.67h27.6v0.88h-27.6zM202.3 655.43h27.6v0.88h-27.6zM202.3 656.31h27.6v0.88h-27.6zM174.7 657.19h27.6v0.88h-27.6zM202.3 657.19h27.6v0.88h-27.6zM174.7 658.06h27.6v2.63h-27.6zM174.7 662.45h27.6v2.63h-27.6zM174.7 666.84h27.6v0.88h-27.6zM174.7 668.60h27.6v1.76h-27.6zM174.7 670.35h27.6v0.88h-27.6zM202.3 670.35h27.6v0.88h-27.6zM202.3 672.11h27.6v2.63h-27.6zM202.3 676.50h27.6v0.88h-27.6zM202.3 677.37h27.6v0.88h-27.6zM174.7 680.88h27.6v1.76h-27.6zM174.7 682.64h27.6v0.88h-27.6zM202.3 683.52h27.6v0.88h-27.6zM174.7 684.40h27.6v2.63h-27.6zM202.3 690.54h27.6v0.88h-27.6zM202.3 691.42h27.6v0.88h-27.6zM202.3 692.30h27.6v0.88h-27.6zM202.3 694.93h27.6v0.88h-27.6zM202.3 703.71h27.6v0.88h-27.6zM202.3 704.58h27.6v0.88h-27.6zM202.3 705.46h27.6v1.76h-27.6zM202.3 707.22h27.6v0.88h-27.6zM202.3 708.09h27.6v1.76h-27.6zM174.7 709.85h27.6v0.88h-27.6zM174.7 712.48h27.6v0.88h-27.6zM202.3 712.48h27.6v0.88h-27.6zM174.7 716.87h27.6v0.88h-27.6zM202.3 716.87h27.6v0.88h-27.6zM174.7 718.63h27.6v0.88h-27.6zM202.3 718.63h27.6v0.88h-27.6zM174.7 719.51h27.6v2.63h-27.6zM174.7 722.14h27.6v1.76h-27.6zM202.3 723.89h27.6v0.88h-27.6zM202.3 724.77h27.6v0.88h-27.6zM202.3 725.65h27.6v1.76h-27.6zM174.7 727.41h27.6v0.88h-27.6zM202.3 727.41h27.6v0.88h-27.6zM202.3 728.28h27.6v1.76h-27.6zM174.7 732.67h27.6v0.88h-27.6zM174.7 733.55h27.6v2.63h-27.6zM174.7 736.18h27.6v0.88h-27.6zM202.3 736.18h27.6v0.88h-27.6zM202.3 737.06h27.6v1.76h-27.6zM202.3 738.82h27.6v0.88h-27.6zM174.7 740.57h27.6v2.63h-27.6zM202.3 743.20h27.6v0.88h-27.6zM202.3 744.08h27.6v2.63h-27.6zM202.3 749.35h27.6v0.88h-27.6zM174.7 755.49h27.6v0.88h-27.6zM202.3 761.64h27.6v1.76h-27.6zM202.3 763.39h27.6v2.63h-27.6zM174.7 766.03h27.6v1.76h-27.6zM174.7 769.54h27.6v1.76h-27.6zM202.3 771.29h27.6v1.76h-27.6zM174.7 773.05h27.6v1.76h-27.6zM174.7 778.31h27.6v0.88h-27.6zM174.7 779.19h27.6v0.88h-27.6zM174.7 780.07h27.6v0.88h-27.6zM174.7 788.85h27.6v0.88h-27.6zM202.3 789.73h27.6v0.88h-27.6zM202.3 793.24h27.6v0.88h-27.6zM202.3 794.99h27.6v0.88h-27.6zM174.7 795.87h27.6v1.76h-27.6zM174.7 800.26h27.6v0.88h-27.6zM174.7 802.89h27.6v0.88h-27.6zM202.3 802.89h27.6v0.88h-27.6zM202.3 805.52h27.6v0.88h-27.6zM174.7 808.16h27.6v0.88h-27.6zM174.7 812.55h27.6v1.76h-27.6zM202.3 812.55h27.6v1.76h-27.6zM174.7 815.18h27.6v1.76h-27.6zM174.7 816.94h27.6v0.88h-27.6zM202.3 816.94h27.6v0.88h-27.6zM174.7 818.69h27.6v0.88h-27.6zM202.3 818.69h27.6v0.88h-27.6zM202.3 819.57h27.6v0.88h-27.6zM174.7 820.45h27.6v0.88h-27.6zM202.3 821.32h27.6v0.88h-27.6zM174.7 822.20h27.6v1.76h-27.6zM202.3 825.71h27.6v0.88h-27.6zM174.7 827.47h27.6v0.88h-27.6zM202.3 829.22h27.6v0.88h-27.6zM202.3 830.10h27.6v0.88h-27.6zM202.3 831.86h27.6v0.88h-27.6zM174.7 832.73h27.6v0.88h-27.6zM174.7 834.49h27.6v0.88h-27.6zM202.3 837.12h27.6v0.88h-27.6zM174.7 838.88h27.6v0.88h-27.6zM174.7 839.76h27.6v0.88h-27.6zM202.3 839.76h27.6v0.88h-27.6zM174.7 840.63h27.6v2.63h-27.6zM202.3 840.63h27.6v2.63h-27.6zM202.3 843.27h27.6v0.88h-27.6zM202.3 844.15h27.6v1.76h-27.6zM174.7 848.53h27.6v1.76h-27.6zM202.3 848.53h27.6v1.76h-27.6zM202.3 855.56h27.6v0.88h-27.6zM174.7 857.31h27.6v1.76h-27.6zM202.3 859.07h27.6v0.88h-27.6zM202.3 859.94h27.6v0.88h-27.6zM174.7 860.82h27.6v0.88h-27.6zM202.3 861.70h27.6v0.88h-27.6zM202.3 863.46h27.6v0.88h-27.6zM202.3 864.33h27.6v2.63h-27.6zM174.7 868.72h27.6v0.88h-27.6zM202.3 868.72h27.6v0.88h-27.6z" fill="#234d98"/>
<path d="M202.3 558.00h27.6v0.88h-27.6zM202.3 571.17h27.6v0.88h-27.6zM202.3 579.07h27.6v0.88h-27.6zM174.7 579.94h27.6v0.88h-27.6zM174.7 585.21h27.6v0.88h-27.6zM202.3 585.21h27.6v0.88h-27.6zM174.7 586.09h27.6v0.88h-27.6zM174.7 590.48h27.6v0.88h-27.6zM202.3 591.35h27.6v0.88h-27.6zM202.3 592.23h27.6v0.88h-27.6zM174.7 598.38h27.6v0.88h-27.6zM202.3 600.13h27.6v1.76h-27.6zM202.3 618.56h27.6v0.88h-27.6zM202.3 622.95h27.6v0.88h-27.6zM174.7 624.71h27.6v2.63h-27.6zM202.3 630.85h27.6v1.76h-27.6zM174.7 642.26h27.6v0.88h-27.6zM174.7 643.14h27.6v0.88h-27.6zM202.3 654.55h27.6v0.88h-27.6zM174.7 665.09h27.6v1.76h-27.6zM174.7 676.50h27.6v0.88h-27.6zM174.7 677.37h27.6v0.88h-27.6zM202.3 678.25h27.6v0.88h-27.6zM202.3 682.64h27.6v0.88h-27.6zM174.7 690.54h27.6v0.88h-27.6zM202.3 693.17h27.6v1.76h-27.6zM174.7 717.75h27.6v0.88h-27.6zM174.7 724.77h27.6v0.88h-27.6zM174.7 725.65h27.6v1.76h-27.6zM174.7 738.82h27.6v0.88h-27.6zM174.7 743.20h27.6v0.88h-27.6zM202.3 750.23h27.6v1.76h-27.6zM174.7 751.98h27.6v0.88h-27.6zM202.3 752.86h27.6v0.88h-27.6zM229.9 759.00h28.0v0.88h-28.0zM174.7 759.88h27.6v1.76h-27.6zM202.3 759.88h27.6v1.76h-27.6zM174.7 761.64h27.6v1.76h-27.6zM202.3 766.03h27.6v1.76h-27.6zM174.7 767.78h27.6v0.88h-27.6zM202.3 774.80h27.6v0.88h-27.6zM202.3 778.31h27.6v0.88h-27.6zM202.3 781.83h27.6v0.88h-27.6zM202.3 784.46h27.6v1.76h-27.6zM202.3 788.85h27.6v0.88h-27.6zM174.7 793.24h27.6v0.88h-27.6zM174.7 794.11h27.6v0.88h-27.6zM174.7 801.14h27.6v1.76h-27.6zM202.3 801.14h27.6v1.76h-27.6zM202.3 815.18h27.6v1.76h-27.6zM174.7 821.32h27.6v0.88h-27.6zM202.3 826.59h27.6v0.88h-27.6zM202.3 827.47h27.6v0.88h-27.6zM202.3 832.73h27.6v0.88h-27.6zM174.7 838.00h27.6v0.88h-27.6zM202.3 857.31h27.6v1.76h-27.6z" fill="#4265a5"/>
<path d="M229.9 558.00h28.0v0.88h-28.0zM229.9 569.41h28.0v0.88h-28.0zM229.9 571.17h28.0v0.88h-28.0zM174.7 578.19h27.6v0.88h-27.6zM229.9 587.84h28.0v0.88h-28.0zM147.0 596.62h27.7v0.88h-27.7zM147.0 597.50h27.7v0.88h-27.7zM229.9 597.50h28.0v0.88h-28.0zM229.9 609.79h28.0v0.88h-28.0zM147.0 618.56h27.7v0.88h-27.7zM229.9 644.02h28.0v0.88h-28.0zM229.9 653.67h28.0v0.88h-28.0zM147.0 665.09h27.7v1.76h-27.7zM147.0 693.17h27.7v1.76h-27.7zM229.9 693.17h28.0v1.76h-28.0zM229.9 713.36h28.0v0.88h-28.0zM147.0 732.67h27.7v0.88h-27.7zM147.0 743.20h27.7v0.88h-27.7zM147.0 744.08h27.7v2.63h-27.7zM229.9 749.35h28.0v0.88h-28.0zM147.0 750.23h27.7v1.76h-27.7zM229.9 751.98h28.0v0.88h-28.0zM229.9 759.88h28.0v1.76h-28.0zM174.7 763.39h27.6v2.63h-27.6zM229.9 774.80h28.0v0.88h-28.0zM229.9 777.44h28.0v0.88h-28.0zM147.0 781.83h27.7v0.88h-27.7zM147.0 789.73h27.7v0.88h-27.7zM229.9 800.26h28.0v0.88h-28.0zM202.3 814.30h27.6v0.88h-27.6zM202.3 820.45h27.6v0.88h-27.6zM229.9 820.45h28.0v0.88h-28.0zM229.9 823.96h28.0v1.76h-28.0zM229.9 830.10h28.0v0.88h-28.0zM147.0 831.86h27.7v0.88h-27.7zM229.9 840.63h28.0v2.63h-28.0zM174.7 856.43h27.6v0.88h-27.6zM202.3 856.43h27.6v0.88h-27.6zM229.9 864.33h28.0v2.63h-28.0z" fill="#f0acb0"/>
<path d="M147.0 558.88h27.7v0.88h-27.7zM174.7 558.88h27.6v0.88h-27.6zM202.3 558.88h27.6v0.88h-27.6zM229.9 558.88h28.0v0.88h-28.0zM147.0 559.76h27.7v0.88h-27.7zM174.7 559.76h27.6v0.88h-27.6zM202.3 559.76h27.6v0.88h-27.6zM229.9 559.76h28.0v0.88h-28.0zM229.9 560.63h28.0v1.76h-28.0zM147.0 562.39h27.7v1.76h-27.7zM174.7 562.39h27.6v1.76h-27.6zM202.3 562.39h27.6v1.76h-27.6zM229.9 562.39h28.0v1.76h-28.0zM174.7 564.14h27.6v0.88h-27.6zM147.0 565.02h27.7v1.76h-27.7zM174.7 569.41h27.6v0.88h-27.6zM202.3 572.92h27.6v2.63h-27.6zM147.0 575.55h27.7v0.88h-27.7zM174.7 575.55h27.6v0.88h-27.6zM202.3 575.55h27.6v0.88h-27.6zM229.9 575.55h28.0v0.88h-28.0zM147.0 576.43h27.7v1.76h-27.7zM174.7 579.07h27.6v0.88h-27.6zM174.7 580.82h27.6v2.63h-27.6zM147.0 586.97h27.7v0.88h-27.7zM174.7 586.97h27.6v0.88h-27.6zM202.3 586.97h27.6v0.88h-27.6zM229.9 586.97h28.0v0.88h-28.0zM147.0 588.72h27.7v1.76h-27.7zM174.7 588.72h27.6v1.76h-27.6zM202.3 588.72h27.6v1.76h-27.6zM229.9 588.72h28.0v1.76h-28.0zM147.0 592.23h27.7v0.88h-27.7zM229.9 593.11h28.0v1.76h-28.0zM147.0 595.74h27.7v0.88h-27.7zM174.7 595.74h27.6v0.88h-27.6zM202.3 595.74h27.6v0.88h-27.6zM229.9 595.74h28.0v0.88h-28.0zM147.0 598.38h27.7v0.88h-27.7zM202.3 598.38h27.6v0.88h-27.6zM147.0 599.25h27.7v0.88h-27.7zM174.7 599.25h27.6v0.88h-27.6zM202.3 599.25h27.6v0.88h-27.6zM229.9 599.25h28.0v0.88h-28.0zM147.0 601.89h27.7v1.76h-27.7zM174.7 601.89h27.6v1.76h-27.6zM202.3 601.89h27.6v1.76h-27.6zM229.9 601.89h28.0v1.76h-28.0zM147.0 605.40h27.7v1.76h-27.7zM174.7 610.66h27.6v2.63h-27.6zM147.0 615.93h27.7v0.88h-27.7zM229.9 615.93h28.0v0.88h-28.0zM174.7 620.32h27.6v0.88h-27.6zM174.7 622.95h27.6v0.88h-27.6zM147.0 624.71h27.7v2.63h-27.7zM229.9 624.71h28.0v2.63h-28.0zM147.0 629.10h27.7v1.76h-27.7zM174.7 629.10h27.6v1.76h-27.6zM202.3 629.10h27.6v1.76h-27.6zM229.9 629.10h28.0v1.76h-28.0zM202.3 632.61h27.6v2.63h-27.6zM229.9 638.75h28.0v0.88h-28.0zM147.0 640.51h27.7v1.76h-27.7zM174.7 640.51h27.6v1.76h-27.6zM202.3 640.51h27.6v1.76h-27.6zM229.9 640.51h28.0v1.76h-28.0zM147.0 642.26h27.7v0.88h-27.7zM229.9 642.26h28.0v0.88h-28.0zM147.0 643.14h27.7v0.88h-27.7zM202.3 644.02h27.6v0.88h-27.6zM147.0 655.43h27.7v0.88h-27.7zM174.7 655.43h27.6v0.88h-27.6zM202.3 658.06h27.6v2.63h-27.6zM174.7 660.70h27.6v1.76h-27.6zM229.9 660.70h28.0v1.76h-28.0zM147.0 666.84h27.7v0.88h-27.7zM229.9 666.84h28.0v0.88h-28.0zM174.7 667.72h27.6v0.88h-27.6zM202.3 667.72h27.6v0.88h-27.6zM147.0 674.74h27.7v1.76h-27.7zM174.7 674.74h27.6v1.76h-27.6zM202.3 674.74h27.6v1.76h-27.6zM229.9 674.74h28.0v1.76h-28.0zM174.7 678.25h27.6v0.88h-27.6zM202.3 684.40h27.6v2.63h-27.6zM147.0 687.03h27.7v2.63h-27.7zM174.7 687.03h27.6v2.63h-27.6zM202.3 687.03h27.6v2.63h-27.6zM229.9 687.03h28.0v2.63h-28.0zM147.0 689.66h27.7v0.88h-27.7zM174.7 689.66h27.6v0.88h-27.6zM202.3 689.66h27.6v0.88h-27.6zM229.9 689.66h28.0v0.88h-28.0zM174.7 692.30h27.6v0.88h-27.6zM229.9 695.81h28.0v2.63h-28.0zM147.0 701.07h27.7v1.76h-27.7zM174.7 701.07h27.6v1.76h-27.6zM202.3 701.07h27.6v1.76h-27.6zM229.9 701.07h28.0v1.76h-28.0zM147.0 702.83h27.7v0.88h-27.7zM174.7 702.83h27.6v0.88h-27.6zM202.3 702.83h27.6v0.88h-27.6zM229.9 702.83h28.0v0.88h-28.0zM174.7 704.58h27.6v0.88h-27.6zM174.7 707.22h27.6v0.88h-27.6zM174.7 708.09h27.6v1.76h-27.6zM147.0 714.24h27.7v2.63h-27.7zM174.7 714.24h27.6v2.63h-27.6zM202.3 714.24h27.6v2.63h-27.6zM229.9 714.24h28.0v2.63h-28.0zM147.0 716.87h27.7v0.88h-27.7zM229.9 719.51h28.0v2.63h-28.0zM174.7 723.89h27.6v0.88h-27.6zM229.9 725.65h28.0v1.76h-28.0zM147.0 727.41h27.7v0.88h-27.7zM147.0 728.28h27.7v1.76h-27.7zM174.7 728.28h27.6v1.76h-27.6zM174.7 739.69h27.6v0.88h-27.6zM147.0 740.57h27.7v2.63h-27.7zM229.9 744.08h28.0v2.63h-28.0zM174.7 749.35h27.6v0.88h-27.6zM147.0 753.74h27.7v1.76h-27.7zM147.0 756.37h27.7v0.88h-27.7zM174.7 756.37h27.6v0.88h-27.6zM202.3 757.25h27.6v1.76h-27.6zM202.3 767.78h27.6v0.88h-27.6zM147.0 768.66h27.7v0.88h-27.7zM174.7 768.66h27.6v0.88h-27.6zM202.3 768.66h27.6v0.88h-27.6zM229.9 768.66h28.0v0.88h-28.0zM202.3 769.54h27.6v1.76h-27.6zM229.9 769.54h28.0v1.76h-28.0zM147.0 771.29h27.7v1.76h-27.7zM147.0 775.68h27.7v1.76h-27.7zM174.7 775.68h27.6v1.76h-27.6zM202.3 775.68h27.6v1.76h-27.6zM229.9 775.68h28.0v1.76h-28.0zM202.3 777.44h27.6v0.88h-27.6zM147.0 780.95h27.7v0.88h-27.7zM174.7 780.95h27.6v0.88h-27.6zM202.3 780.95h27.6v0.88h-27.6zM229.9 780.95h28.0v0.88h-28.0zM174.7 781.83h27.6v0.88h-27.6zM147.0 782.70h27.7v1.76h-27.7zM174.7 782.70h27.6v1.76h-27.6zM202.3 782.70h27.6v1.76h-27.6zM229.9 782.70h28.0v1.76h-28.0zM147.0 784.46h27.7v1.76h-27.7zM174.7 786.21h27.6v2.63h-27.6zM202.3 790.60h27.6v2.63h-27.6zM147.0 795.87h27.7v1.76h-27.7zM147.0 797.62h27.7v2.63h-27.7zM174.7 797.62h27.6v2.63h-27.6zM202.3 797.62h27.6v2.63h-27.6zM229.9 797.62h28.0v2.63h-28.0zM202.3 803.77h27.6v0.88h-27.6zM147.0 804.65h27.7v0.88h-27.7zM174.7 804.65h27.6v0.88h-27.6zM202.3 804.65h27.6v0.88h-27.6zM229.9 804.65h28.0v0.88h-28.0zM147.0 808.16h27.7v0.88h-27.7zM147.0 809.04h27.7v0.88h-27.7zM174.7 809.04h27.6v0.88h-27.6zM202.3 809.04h27.6v0.88h-27.6zM229.9 809.04h28.0v0.88h-28.0zM147.0 809.91h27.7v0.88h-27.7zM174.7 809.91h27.6v0.88h-27.6zM202.3 809.91h27.6v0.88h-27.6zM229.9 809.91h28.0v0.88h-28.0zM147.0 810.79h27.7v0.88h-27.7zM174.7 810.79h27.6v0.88h-27.6zM202.3 810.79h27.6v0.88h-27.6zM229.9 810.79h28.0v0.88h-28.0zM147.0 811.67h27.7v0.88h-27.7zM174.7 811.67h27.6v0.88h-27.6zM202.3 811.67h27.6v0.88h-27.6zM229.9 811.67h28.0v0.88h-28.0zM174.7 814.30h27.6v0.88h-27.6zM147.0 817.81h27.7v0.88h-27.7zM174.7 817.81h27.6v0.88h-27.6zM202.3 817.81h27.6v0.88h-27.6zM229.9 817.81h28.0v0.88h-28.0zM174.7 823.96h27.6v1.76h-27.6zM202.3 823.96h27.6v1.76h-27.6zM147.0 828.35h27.7v0.88h-27.7zM174.7 828.35h27.6v0.88h-27.6zM202.3 828.35h27.6v0.88h-27.6zM229.9 828.35h28.0v0.88h-28.0zM147.0 833.61h27.7v0.88h-27.7zM174.7 833.61h27.6v0.88h-27.6zM202.3 833.61h27.6v0.88h-27.6zM229.9 833.61h28.0v0.88h-28.0zM147.0 839.76h27.7v0.88h-27.7zM147.0 850.29h27.7v0.88h-27.7zM174.7 850.29h27.6v0.88h-27.6zM202.3 850.29h27.6v0.88h-27.6zM229.9 850.29h28.0v0.88h-28.0zM202.3 851.17h27.6v0.88h-27.6zM147.0 854.68h27.7v0.88h-27.7zM174.7 854.68h27.6v0.88h-27.6zM202.3 854.68h27.6v0.88h-27.6zM229.9 854.68h28.0v0.88h-28.0zM229.9 855.56h28.0v0.88h-28.0zM229.9 859.07h28.0v0.88h-28.0zM174.7 859.94h27.6v0.88h-27.6zM147.0 862.58h27.7v0.88h-27.7zM174.7 862.58h27.6v0.88h-27.6zM202.3 862.58h27.6v0.88h-27.6zM229.9 862.58h28.0v0.88h-28.0zM229.9 863.46h28.0v0.88h-28.0zM147.0 866.97h27.7v1.76h-27.7zM174.7 866.97h27.6v1.76h-27.6zM202.3 866.97h27.6v1.76h-27.6zM229.9 866.97h28.0v1.76h-28.0z" fill="#c6c6c6"/>
<path d="M174.7 560.63h27.6v1.76h-27.6zM202.3 576.43h27.6v1.76h-27.6zM174.7 587.84h27.6v0.88h-27.6zM174.7 594.87h27.6v0.88h-27.6zM229.9 594.87h28.0v0.88h-28.0zM174.7 596.62h27.6v0.88h-27.6zM174.7 604.52h27.6v0.88h-27.6zM202.3 609.79h27.6v0.88h-27.6zM174.7 613.30h27.6v2.63h-27.6zM174.7 618.56h27.6v0.88h-27.6zM202.3 637.87h27.6v0.88h-27.6zM202.3 643.14h27.6v0.88h-27.6zM174.7 654.55h27.6v0.88h-27.6zM174.7 656.31h27.6v0.88h-27.6zM202.3 665.09h27.6v1.76h-27.6zM202.3 668.60h27.6v1.76h-27.6zM174.7 671.23h27.6v0.88h-27.6zM202.3 671.23h27.6v0.88h-27.6zM174.7 672.11h27.6v2.63h-27.6zM174.7 679.13h27.6v1.76h-27.6zM202.3 680.88h27.6v1.76h-27.6zM147.0 695.81h27.7v2.63h-27.7zM174.7 695.81h27.6v2.63h-27.6zM202.3 698.44h27.6v2.63h-27.6zM174.7 705.46h27.6v1.76h-27.6zM202.3 709.85h27.6v0.88h-27.6zM174.7 710.73h27.6v1.76h-27.6zM202.3 733.55h27.6v2.63h-27.6zM174.7 737.06h27.6v1.76h-27.6zM174.7 744.08h27.6v2.63h-27.6zM174.7 750.23h27.6v1.76h-27.6zM202.3 751.98h27.6v0.88h-27.6zM174.7 753.74h27.6v1.76h-27.6zM202.3 753.74h27.6v1.76h-27.6zM174.7 757.25h27.6v1.76h-27.6zM174.7 771.29h27.6v1.76h-27.6zM202.3 773.05h27.6v1.76h-27.6zM202.3 779.19h27.6v0.88h-27.6zM202.3 780.07h27.6v0.88h-27.6zM174.7 784.46h27.6v1.76h-27.6zM174.7 794.99h27.6v0.88h-27.6zM202.3 800.26h27.6v0.88h-27.6zM174.7 805.52h27.6v0.88h-27.6zM229.9 806.40h28.0v1.76h-28.0zM202.3 808.16h27.6v0.88h-27.6zM174.7 829.22h27.6v0.88h-27.6zM174.7 831.86h27.6v0.88h-27.6zM202.3 834.49h27.6v0.88h-27.6zM202.3 836.25h27.6v0.88h-27.6zM174.7 837.12h27.6v0.88h-27.6zM202.3 838.88h27.6v0.88h-27.6zM174.7 843.27h27.6v0.88h-27.6zM174.7 844.15h27.6v1.76h-27.6zM174.7 845.90h27.6v2.63h-27.6zM174.7 859.07h27.6v0.88h-27.6zM174.7 861.70h27.6v0.88h-27.6zM174.7 863.46h27.6v0.88h-27.6z" fill="#879bc4"/>
<path d="M147.0 564.14h27.7v0.88h-27.7zM147.0 569.41h27.7v0.88h-27.7zM147.0 571.17h27.7v0.88h-27.7zM147.0 572.04h27.7v0.88h-27.7zM174.7 572.04h27.6v0.88h-27.6zM147.0 579.07h27.7v0.88h-27.7zM229.9 579.07h28.0v0.88h-28.0zM147.0 585.21h27.7v0.88h-27.7zM147.0 603.64h27.7v0.88h-27.7zM147.0 610.66h27.7v2.63h-27.7zM229.9 610.66h28.0v2.63h-28.0zM229.9 627.34h28.0v1.76h-28.0zM229.9 632.61h28.0v2.63h-28.0zM147.0 644.02h27.7v0.88h-27.7zM229.9 652.80h28.0v0.88h-28.0zM147.0 653.67h27.7v0.88h-27.7zM229.9 654.55h28.0v0.88h-28.0zM229.9 662.45h28.0v2.63h-28.0zM147.0 668.60h27.7v1.76h-27.7zM147.0 671.23h27.7v0.88h-27.7zM229.9 671.23h28.0v0.88h-28.0zM147.0 672.11h27.7v2.63h-27.7zM229.9 680.88h28.0v1.76h-28.0zM229.9 682.64h28.0v0.88h-28.0zM229.9 690.54h28.0v0.88h-28.0zM147.0 694.93h27.7v0.88h-27.7zM229.9 694.93h28.0v0.88h-28.0zM229.9 705.46h28.0v1.76h-28.0zM229.9 707.22h28.0v0.88h-28.0zM229.9 717.75h28.0v0.88h-28.0zM147.0 722.14h27.7v1.76h-27.7zM229.9 723.89h28.0v0.88h-28.0zM229.9 724.77h28.0v0.88h-28.0zM229.9 732.67h28.0v0.88h-28.0zM147.0 736.18h27.7v0.88h-27.7zM147.0 738.82h27.7v0.88h-27.7zM229.9 743.20h28.0v0.88h-28.0zM229.9 750.23h28.0v1.76h-28.0zM147.0 755.49h27.7v0.88h-27.7zM147.0 763.39h27.7v2.63h-27.7zM229.9 767.78h28.0v0.88h-28.0zM229.9 771.29h28.0v1.76h-28.0zM147.0 774.80h27.7v0.88h-27.7zM147.0 779.19h27.7v0.88h-27.7zM229.9 779.19h28.0v0.88h-28.0zM229.9 781.83h28.0v0.88h-28.0zM229.9 788.85h28.0v0.88h-28.0zM147.0 790.60h27.7v2.63h-27.7zM147.0 794.11h27.7v0.88h-27.7zM229.9 794.11h28.0v0.88h-28.0zM147.0 805.52h27.7v0.88h-27.7zM229.9 805.52h28.0v0.88h-28.0zM147.0 816.94h27.7v0.88h-27.7zM147.0 820.45h27.7v0.88h-27.7zM229.9 822.20h28.0v1.76h-28.0zM147.0 825.71h27.7v0.88h-27.7zM229.9 826.59h28.0v0.88h-28.0zM229.9 827.47h28.0v0.88h-28.0zM174.7 830.98h27.6v0.88h-27.6zM229.9 831.86h28.0v0.88h-28.0zM147.0 832.73h27.7v0.88h-27.7zM147.0 834.49h27.7v0.88h-27.7zM229.9 844.15h28.0v1.76h-28.0zM147.0 848.53h27.7v1.76h-27.7zM229.9 852.05h28.0v2.63h-28.0zM147.0 856.43h27.7v0.88h-27.7zM147.0 857.31h27.7v1.76h-27.7z" fill="#e95c61"/>
<path d="M174.7 566.78h27.6v2.63h-27.6zM174.7 570.29h27.6v0.88h-27.6zM202.3 570.29h27.6v0.88h-27.6zM202.3 572.04h27.6v0.88h-27.6zM174.7 572.92h27.6v2.63h-27.6zM202.3 578.19h27.6v0.88h-27.6zM202.3 579.94h27.6v0.88h-27.6zM174.7 591.35h27.6v0.88h-27.6zM202.3 593.11h27.6v1.76h-27.6zM229.9 596.62h28.0v0.88h-28.0zM174.7 605.40h27.6v1.76h-27.6zM202.3 616.81h27.6v1.76h-27.6zM202.3 620.32h27.6v0.88h-27.6zM202.3 623.83h27.6v0.88h-27.6zM202.3 624.71h27.6v2.63h-27.6zM174.7 627.34h27.6v1.76h-27.6zM202.3 627.34h27.6v1.76h-27.6zM202.3 635.24h27.6v2.63h-27.6zM147.0 647.53h27.7v2.63h-27.7zM174.7 647.53h27.6v2.63h-27.6zM174.7 650.16h27.6v2.63h-27.6zM202.3 660.70h27.6v1.76h-27.6zM202.3 666.84h27.6v0.88h-27.6zM174.7 683.52h27.6v0.88h-27.6zM174.7 691.42h27.6v0.88h-27.6zM174.7 694.93h27.6v0.88h-27.6zM229.9 704.58h28.0v0.88h-28.0zM202.3 719.51h27.6v2.63h-27.6zM202.3 730.04h27.6v2.63h-27.6zM174.7 746.72h27.6v2.63h-27.6zM202.3 746.72h27.6v2.63h-27.6zM174.7 759.00h27.6v0.88h-27.6zM202.3 759.00h27.6v0.88h-27.6zM174.7 777.44h27.6v0.88h-27.6zM202.3 786.21h27.6v2.63h-27.6zM202.3 794.11h27.6v0.88h-27.6zM202.3 795.87h27.6v1.76h-27.6zM174.7 803.77h27.6v0.88h-27.6zM174.7 806.40h27.6v1.76h-27.6zM202.3 806.40h27.6v1.76h-27.6zM202.3 822.20h27.6v1.76h-27.6zM174.7 826.59h27.6v0.88h-27.6zM202.3 835.37h27.6v0.88h-27.6zM174.7 836.25h27.6v0.88h-27.6zM202.3 838.00h27.6v0.88h-27.6zM202.3 845.90h27.6v2.63h-27.6zM174.7 852.05h27.6v2.63h-27.6zM174.7 855.56h27.6v0.88h-27.6zM174.7 864.33h27.6v2.63h-27.6z" fill="#627fb4"/>
<path d="M229.9 572.04h28.0v0.88h-28.0zM174.7 583.45h27.6v1.76h-27.6zM229.9 583.45h28.0v1.76h-28.0zM147.0 604.52h27.7v0.88h-27.7zM229.9 619.44h28.0v0.88h-28.0zM147.0 637.87h27.7v0.88h-27.7zM147.0 639.63h27.7v0.88h-27.7zM147.0 645.77h27.7v0.88h-27.7zM229.9 646.65h28.0v0.88h-28.0zM229.9 647.53h28.0v2.63h-28.0zM202.3 652.80h27.6v0.88h-27.6zM147.0 656.31h27.7v0.88h-27.7zM147.0 662.45h27.7v2.63h-27.7zM229.9 672.11h28.0v2.63h-28.0zM147.0 676.50h27.7v0.88h-27.7zM147.0 678.25h27.7v0.88h-27.7zM229.9 679.13h28.0v1.76h-28.0zM147.0 683.52h27.7v0.88h-27.7zM229.9 692.30h28.0v0.88h-28.0zM147.0 698.44h27.7v2.63h-27.7zM147.0 718.63h27.7v0.88h-27.7zM147.0 730.04h27.7v2.63h-27.7zM174.7 730.04h27.6v2.63h-27.6zM229.9 730.04h28.0v2.63h-28.0zM229.9 733.55h28.0v2.63h-28.0zM229.9 746.72h28.0v2.63h-28.0zM202.3 756.37h27.6v0.88h-27.6zM147.0 761.64h27.7v1.76h-27.7zM229.9 763.39h28.0v2.63h-28.0zM147.0 777.44h27.7v0.88h-27.7zM147.0 780.07h27.7v0.88h-27.7zM229.9 784.46h28.0v1.76h-28.0zM229.9 786.21h28.0v2.63h-28.0zM229.9 793.24h28.0v0.88h-28.0zM229.9 794.99h28.0v0.88h-28.0zM229.9 801.14h28.0v1.76h-28.0zM147.0 803.77h27.7v0.88h-27.7zM229.9 814.30h28.0v0.88h-28.0zM229.9 815.18h28.0v1.76h-28.0zM229.9 818.69h28.0v0.88h-28.0zM147.0 830.10h27.7v0.88h-27.7zM174.7 830.10h27.6v0.88h-27.6zM229.9 832.73h28.0v0.88h-28.0zM229.9 856.43h28.0v0.88h-28.0zM229.9 868.72h28.0v0.88h-28.0z" fill="#ed8185"/>
<path d="M229.9 579.94h28.0v0.88h-28.0zM229.9 591.35h28.0v0.88h-28.0zM147.0 593.11h27.7v1.76h-27.7zM229.9 600.13h28.0v1.76h-28.0zM229.9 604.52h28.0v0.88h-28.0zM229.9 607.15h28.0v0.88h-28.0zM229.9 608.03h28.0v1.76h-28.0zM147.0 613.30h27.7v2.63h-27.7zM229.9 613.30h28.0v2.63h-28.0zM147.0 616.81h27.7v1.76h-27.7zM147.0 619.44h27.7v0.88h-27.7zM147.0 620.32h27.7v0.88h-27.7zM229.9 622.95h28.0v0.88h-28.0zM147.0 623.83h27.7v0.88h-27.7zM229.9 623.83h28.0v0.88h-28.0zM147.0 632.61h27.7v2.63h-27.7zM229.9 635.24h28.0v2.63h-28.0zM229.9 637.87h28.0v0.88h-28.0zM229.9 644.90h28.0v0.88h-28.0zM229.9 645.77h28.0v0.88h-28.0zM147.0 646.65h27.7v0.88h-27.7zM147.0 652.80h27.7v0.88h-27.7zM229.9 657.19h28.0v0.88h-28.0zM229.9 676.50h28.0v0.88h-28.0zM147.0 684.40h27.7v2.63h-27.7zM229.9 684.40h28.0v2.63h-28.0zM147.0 691.42h27.7v0.88h-27.7zM147.0 705.46h27.7v1.76h-27.7zM229.9 712.48h28.0v0.88h-28.0zM147.0 713.36h27.7v0.88h-27.7zM147.0 717.75h27.7v0.88h-27.7zM229.9 722.14h28.0v1.76h-28.0zM229.9 727.41h28.0v0.88h-28.0zM147.0 737.06h27.7v1.76h-27.7zM229.9 766.03h28.0v1.76h-28.0zM229.9 778.31h28.0v0.88h-28.0zM147.0 786.21h27.7v2.63h-27.7zM147.0 793.24h27.7v0.88h-27.7zM229.9 795.87h28.0v1.76h-28.0zM147.0 814.30h27.7v0.88h-27.7zM229.9 819.57h28.0v0.88h-28.0zM147.0 823.96h27.7v1.76h-27.7zM147.0 826.59h27.7v0.88h-27.7zM229.9 835.37h28.0v0.88h-28.0zM229.9 836.25h28.0v0.88h-28.0zM229.9 837.12h28.0v0.88h-28.0zM229.9 839.76h28.0v0.88h-28.0zM147.0 844.15h27.7v1.76h-27.7zM147.0 845.90h27.7v2.63h-27.7zM229.9 845.90h28.0v2.63h-28.0zM229.9 848.53h28.0v1.76h-28.0zM147.0 859.94h27.7v0.88h-27.7zM147.0 860.82h27.7v0.88h-27.7zM147.0 861.70h27.7v0.88h-27.7z" fill="#e73a40"/>
<path d="M147.0 587.84h27.7v0.88h-27.7zM229.9 590.48h28.0v0.88h-28.0zM174.7 593.11h27.6v1.76h-27.6zM202.3 596.62h27.6v0.88h-27.6zM202.3 604.52h27.6v0.88h-27.6zM202.3 608.03h27.6v1.76h-27.6zM229.9 621.20h28.0v1.76h-28.0zM202.3 638.75h27.6v0.88h-27.6zM174.7 639.63h27.6v0.88h-27.6zM229.9 643.14h28.0v0.88h-28.0zM202.3 647.53h27.6v2.63h-27.6zM174.7 653.67h27.6v0.88h-27.6zM229.9 656.31h28.0v0.88h-28.0zM147.0 660.70h27.7v1.76h-27.7zM202.3 662.45h27.6v2.63h-27.6zM229.9 670.35h28.0v0.88h-28.0zM147.0 679.13h27.7v1.76h-27.7zM202.3 679.13h27.6v1.76h-27.6zM174.7 693.17h27.6v1.76h-27.6zM202.3 695.81h27.6v2.63h-27.6zM174.7 698.44h27.6v2.63h-27.6zM174.7 703.71h27.6v0.88h-27.6zM202.3 710.73h27.6v1.76h-27.6zM174.7 713.36h27.6v0.88h-27.6zM202.3 713.36h27.6v0.88h-27.6zM202.3 717.75h27.6v0.88h-27.6zM202.3 722.14h27.6v1.76h-27.6zM202.3 732.67h27.6v0.88h-27.6zM202.3 739.69h27.6v0.88h-27.6zM202.3 740.57h27.6v2.63h-27.6zM174.7 752.86h27.6v0.88h-27.6zM202.3 755.49h27.6v0.88h-27.6zM229.9 780.07h28.0v0.88h-28.0zM174.7 790.60h27.6v2.63h-27.6zM229.9 790.60h28.0v2.63h-28.0zM174.7 819.57h27.6v0.88h-27.6zM174.7 825.71h27.6v0.88h-27.6zM202.3 830.98h27.6v0.88h-27.6zM229.9 834.49h28.0v0.88h-28.0zM174.7 835.37h27.6v0.88h-27.6zM202.3 860.82h27.6v0.88h-27.6z" fill="#b2bdd6"/>
<path d="M229.9 605.40h28.0v1.76h-28.0zM229.9 620.32h28.0v0.88h-28.0zM147.0 638.75h27.7v0.88h-27.7zM174.7 638.75h27.6v0.88h-27.6zM174.7 652.80h27.6v0.88h-27.6zM147.0 658.06h27.7v2.63h-27.7zM229.9 667.72h28.0v0.88h-28.0zM147.0 749.35h27.7v0.88h-27.7zM174.7 774.80h27.6v0.88h-27.6zM174.7 789.73h27.6v0.88h-27.6zM229.9 812.55h28.0v1.76h-28.0zM174.7 851.17h27.6v0.88h-27.6zM202.3 852.05h27.6v2.63h-27.6zM229.9 860.82h28.0v0.88h-28.0zM147.0 868.72h27.7v0.88h-27.7z" fill="#f6f2f4"/>
<defs><linearGradient id="cb" x1="0" x2="1" y1="0" y2="0"><stop offset="0" stop-color="#2a479c"/><stop offset="0.455" stop-color="#ffffff"/><stop offset="0.9" stop-color="#e31c24"/><stop offset="1" stop-color="#e31c24"/></linearGradient></defs>
<rect x="65.5" y="876.6" width="139.5" height="13.1" fill="url(#cb)"/>
<text x="45" y="903" font-size="15" fill="#111" stroke="#111">row min</text>
<text x="106" y="903" font-size="15" fill="#111" stroke="#111">row mean</text>
<text x="184.6" y="903" font-size="15" fill="#111" stroke="#111">row max</text>
<text x="22.3" y="737" font-size="15" text-anchor="middle" fill="#111" stroke="#111" transform="rotate(-90 22.3 737)">355 phosphopeptide5</text>
<text x="1" y="929.5" font-size="18" font-weight="bold" fill="#111" stroke="#111">d</text>
<text x="165" y="930" font-size="15" fill="#111" stroke="#111">E</text>
<text x="12" y="940.5" font-size="15" fill="#111" stroke="#111">Guanine</text>
<text x="79" y="940.5" font-size="15" fill="#111" stroke="#111">SP600125</text>
<text x="44" y="1089" font-size="15" fill="#111" stroke="#111">Adenine</text>
<ellipse cx="52.2" cy="992.1" rx="45.9" ry="42.3" fill="#f2f2f2" fill-opacity="0.9" stroke="#7a7a7a" stroke-width="3" />
<ellipse cx="94.2" cy="992.8" rx="45.5" ry="42.1" fill="#dcdcdc" fill-opacity="0.55" stroke="#7a7a7a" stroke-opacity="0.85" stroke-width="3" />
<ellipse cx="72.9" cy="1029" rx="45.6" ry="42.0" fill="#d0d0d0" fill-opacity="0.5" stroke="#6e6e6e" stroke-opacity="0.85" stroke-width="3" />
<text x="30.4" y="986.4" font-size="15" text-anchor="middle" fill="#111" stroke="#111">41</text>
<text x="75.5" y="979" font-size="15" text-anchor="middle" fill="#111" stroke="#111">28</text>
<text x="119.7" y="986" font-size="15" text-anchor="middle" fill="#111" stroke="#111">152</text>
<text x="76.2" y="1006.8" font-size="15" text-anchor="middle" fill="#111" stroke="#111">12</text>
<text x="46.3" y="1025.8" font-size="15" text-anchor="middle" fill="#111" stroke="#111">12</text>
<text x="101.4" y="1026.6" font-size="15" text-anchor="middle" fill="#111" stroke="#111">34</text>
<text x="74.5" y="1052.8" font-size="15" text-anchor="middle" fill="#111" stroke="#111">75</text>
<text x="185" y="939.7" font-size="15" fill="#111" stroke="#111">phospho</text>
<text x="260" y="939.7" font-size="15" fill="#111" stroke="#111">proteome</text>
<ellipse cx="228.1" cy="986.9" rx="45.3" ry="42.1" fill="#f4f4f4" stroke="#777" stroke-width="3"/>
<ellipse cx="267.4" cy="986.9" rx="45.3" ry="42.1" fill="#d8d8d8" fill-opacity="0.55" stroke="#a8a8a8" stroke-opacity="0.9" stroke-width="3"/>
<text x="204.5" y="988.8" font-size="15" text-anchor="middle" fill="#111" stroke="#111">243</text>
<text x="248.5" y="988.8" font-size="15" text-anchor="middle" fill="#111" stroke="#111">24</text>
<text x="293" y="988.8" font-size="15" text-anchor="middle" fill="#111" stroke="#111">308</text>
<text x="269" y="325.5" font-size="18" font-weight="bold" fill="#111" stroke="#111">f</text>
<circle cx="392.3" cy="375.9" r="3.9" fill="#3a3a3a" fill-opacity="0.6"/>
<circle cx="613.6" cy="376.2" r="3.9" fill="#3a3a3a" fill-opacity="0.6"/>
<circle cx="637.2" cy="376.2" r="3.9" fill="#3a3a3a" fill-opacity="0.6"/>
<circle cx="652.7" cy="376.2" r="3.9" fill="#3a3a3a" fill-opacity="0.6"/>
<circle cx="316.7" cy="462.1" r="3.9" fill="#3a3a3a" fill-opacity="0.6"/>
<circle cx="380.8" cy="461.1" r="3.9" fill="#3a3a3a" fill-opacity="0.6"/>
<circle cx="379.8" cy="465.3" r="3.9" fill="#3a3a3a" fill-opacity="0.6"/>
<circle cx="437.1" cy="440.4" r="3.9" fill="#3a3a3a" fill-opacity="0.6"/>
<circle cx="457.6" cy="457.2" r="3.9" fill="#3a3a3a" fill-opacity="0.6"/>
<circle cx="437.1" cy="466.1" r="3.9" fill="#3a3a3a" fill-opacity="0.6"/>
<circle cx="589.3" cy="466.3" r="3.9" fill="#3a3a3a" fill-opacity="0.6"/>
<circle cx="590.3" cy="466.5" r="3.9" fill="#3a3a3a" fill-opacity="0.6"/>
<circle cx="594.6" cy="466.6" r="3.9" fill="#3a3a3a" fill-opacity="0.6"/>
<circle cx="600.4" cy="468.4" r="3.9" fill="#3a3a3a" fill-opacity="0.6"/>
<line x1="292.04999999999995" y1="465.83729999999997" x2="664.3" y2="465.83729999999997" stroke="#9c9c9c" stroke-width="1.2" stroke-dasharray="3,3"/>
<line x1="515.4" y1="322.79999999999995" x2="515.4" y2="534.4" stroke="#000" stroke-width="1.8"/>
<line x1="291.15" y1="534.4" x2="665.1999999999999" y2="534.4" stroke="#000" stroke-width="1.8"/>
<line x1="507.9" y1="481.7" x2="515.4" y2="481.7" stroke="#000" stroke-width="1.8"/>
<text x="498.29999999999995" y="486.59999999999997" font-size="15" text-anchor="end" fill="#111" stroke="#111">1</text>
<line x1="507.9" y1="429.0" x2="515.4" y2="429.0" stroke="#000" stroke-width="1.8"/>
<text x="498.29999999999995" y="433.9" font-size="15" text-anchor="end" fill="#111" stroke="#111">2</text>
<line x1="507.9" y1="376.29999999999995" x2="515.4" y2="376.29999999999995" stroke="#000" stroke-width="1.8"/>
<text x="498.29999999999995" y="381.19999999999993" font-size="15" text-anchor="end" fill="#111" stroke="#111">3</text>
<line x1="507.9" y1="323.59999999999997" x2="515.4" y2="323.59999999999997" stroke="#000" stroke-width="1.8"/>
<text x="498.29999999999995" y="328.49999999999994" font-size="15" text-anchor="end" fill="#111" stroke="#111">4</text>
<line x1="292.04999999999995" y1="534.4" x2="292.04999999999995" y2="539.9" stroke="#000" stroke-width="1.8"/>
<text x="292.04999999999995" y="557.4" font-size="15" text-anchor="middle" fill="#111" stroke="#111">-3</text>
<line x1="366.5" y1="534.4" x2="366.5" y2="539.9" stroke="#000" stroke-width="1.8"/>
<text x="366.5" y="557.4" font-size="15" text-anchor="middle" fill="#111" stroke="#111">-2</text>
<line x1="440.95" y1="534.4" x2="440.95" y2="539.9" stroke="#000" stroke-width="1.8"/>
<text x="440.95" y="557.4" font-size="15" text-anchor="middle" fill="#111" stroke="#111">-1</text>
<line x1="515.4" y1="534.4" x2="515.4" y2="539.9" stroke="#000" stroke-width="1.8"/>
<text x="515.4" y="557.4" font-size="15" text-anchor="middle" fill="#111" stroke="#111">0</text>
<line x1="589.85" y1="534.4" x2="589.85" y2="539.9" stroke="#000" stroke-width="1.8"/>
<text x="589.85" y="557.4" font-size="15" text-anchor="middle" fill="#111" stroke="#111">1</text>
<line x1="664.3" y1="534.4" x2="664.3" y2="539.9" stroke="#000" stroke-width="1.8"/>
<text x="664.3" y="557.4" font-size="15" text-anchor="middle" fill="#111" stroke="#111">2</text>
<text x="515.4" y="572" font-size="15" text-anchor="middle" fill="#111" stroke="#111">Swing Score</text>
<text x="288.6" y="429.5" font-size="15" text-anchor="middle" fill="#111" stroke="#111" transform="rotate(-90 288.6 429.5)">-Log10 (P value)</text>
<text x="400.5" y="378.8" font-size="15" fill="#111" stroke="#111">Rps6ka1</text>
<text x="552.2" y="371.5" font-size="15" font-weight="bold" fill="#111" stroke="#111">Mapk10</text>
<text x="623.8" y="368.3" font-size="15" fill="#111" stroke="#111">Fyn</text>
<text x="656.2" y="374.3" font-size="15" fill="#111" stroke="#111">Src</text>
<text x="324.5" y="464.6" font-size="15" fill="#111" stroke="#111">Prkaca</text>
<text x="383.3" y="456.2" font-size="15" fill="#111" stroke="#111">Prkaa1</text>
<text x="376.2" y="480.6" font-size="15" fill="#111" stroke="#111">Camk2a</text>
<text x="445.8" y="442.3" font-size="15" fill="#111" stroke="#111">Prkaa2</text>
<text x="465.8" y="458.6" font-size="15" fill="#111" stroke="#111">Rock1</text>
<text x="444.8" y="469.9" font-size="15" fill="#111" stroke="#111">Aurkb</text>
<text x="586.4" y="452.9" font-size="15" fill="#111" stroke="#111">Met</text>
<text x="556.2" y="468.2" font-size="15" fill="#111" stroke="#111">Plk1</text>
<text x="604.3" y="463.7" font-size="15" font-weight="bold" fill="#111" stroke="#111">Mapk8</text>
<text x="603.6" y="478.2" font-size="15" fill="#111" stroke="#111">Abl1</text>
<text x="344" y="602" font-size="18.5" font-weight="bold" fill="#111" stroke="#111">g</text>
<circle cx="447.9" cy="648" r="3.9" fill="#3a3a3a" fill-opacity="0.6"/>
<circle cx="584.3" cy="647.8" r="3.9" fill="#3a3a3a" fill-opacity="0.6"/>
<circle cx="617.2" cy="710.8" r="3.9" fill="#3a3a3a" fill-opacity="0.6"/>
<circle cx="479.6" cy="712.4" r="3.9" fill="#3a3a3a" fill-opacity="0.6"/>
<circle cx="477.4" cy="731.5" r="3.9" fill="#3a3a3a" fill-opacity="0.6"/>
<circle cx="453.8" cy="737.6" r="3.9" fill="#3a3a3a" fill-opacity="0.6"/>
<circle cx="484.3" cy="739.4" r="3.9" fill="#3a3a3a" fill-opacity="0.6"/>
<circle cx="465.1" cy="743.4" r="3.9" fill="#3a3a3a" fill-opacity="0.6"/>
<circle cx="472.5" cy="742" r="3.9" fill="#3a3a3a" fill-opacity="0.6"/>
<circle cx="564.9" cy="731.6" r="3.9" fill="#3a3a3a" fill-opacity="0.6"/>
<circle cx="566.2" cy="740.3" r="3.9" fill="#3a3a3a" fill-opacity="0.6"/>
<circle cx="552.3" cy="745.5" r="3.9" fill="#3a3a3a" fill-opacity="0.6"/>
<line x1="378.40000000000003" y1="737.2373" x2="652.0" y2="737.2373" stroke="#9c9c9c" stroke-width="1.2" stroke-dasharray="3,3"/>
<line x1="515.2" y1="594.2" x2="515.2" y2="805.8" stroke="#000" stroke-width="1.8"/>
<line x1="377.50000000000006" y1="805.8" x2="652.9" y2="805.8" stroke="#000" stroke-width="1.8"/>
<line x1="508.30000000000007" y1="753.0999999999999" x2="515.2" y2="753.0999999999999" stroke="#000" stroke-width="1.8"/>
<text x="500.0" y="757.9999999999999" font-size="15" text-anchor="end" fill="#111" stroke="#111">1</text>
<line x1="508.30000000000007" y1="700.4" x2="515.2" y2="700.4" stroke="#000" stroke-width="1.8"/>
<text x="500.0" y="705.3" font-size="15" text-anchor="end" fill="#111" stroke="#111">2</text>
<line x1="508.30000000000007" y1="647.6999999999999" x2="515.2" y2="647.6999999999999" stroke="#000" stroke-width="1.8"/>
<text x="500.0" y="652.5999999999999" font-size="15" text-anchor="end" fill="#111" stroke="#111">3</text>
<line x1="508.30000000000007" y1="595.0" x2="515.2" y2="595.0" stroke="#000" stroke-width="1.8"/>
<text x="500.0" y="599.9" font-size="15" text-anchor="end" fill="#111" stroke="#111">4</text>
<line x1="378.40000000000003" y1="805.8" x2="378.40000000000003" y2="811.3" stroke="#000" stroke-width="1.8"/>
<text x="378.40000000000003" y="826.0" font-size="15" text-anchor="middle" fill="#111" stroke="#111">-4</text>
<line x1="446.80000000000007" y1="805.8" x2="446.80000000000007" y2="811.3" stroke="#000" stroke-width="1.8"/>
<text x="446.80000000000007" y="826.0" font-size="15" text-anchor="middle" fill="#111" stroke="#111">-2</text>
<line x1="515.2" y1="805.8" x2="515.2" y2="811.3" stroke="#000" stroke-width="1.8"/>
<text x="515.2" y="826.0" font-size="15" text-anchor="middle" fill="#111" stroke="#111">0</text>
<line x1="583.6" y1="805.8" x2="583.6" y2="811.3" stroke="#000" stroke-width="1.8"/>
<text x="583.6" y="826.0" font-size="15" text-anchor="middle" fill="#111" stroke="#111">2</text>
<line x1="652.0" y1="805.8" x2="652.0" y2="811.3" stroke="#000" stroke-width="1.8"/>
<text x="652.0" y="826.0" font-size="15" text-anchor="middle" fill="#111" stroke="#111">4</text>
<text x="515.2" y="841.5" font-size="15" text-anchor="middle" fill="#111" stroke="#111">Swing Score</text>
<text x="362.3" y="704" font-size="15" text-anchor="middle" fill="#111" stroke="#111" transform="rotate(-90 362.3 704)">-Log10 (P value)</text>
<text x="390" y="644.4" font-size="15" fill="#111" stroke="#111">Adrbk1</text>
<text x="592.5" y="650.4" font-size="15" fill="#111" stroke="#111">Prkg1</text>
<text x="625.4" y="714" font-size="15" fill="#111" stroke="#111">Prkaca</text>
<text x="437.1" y="708.2" font-size="15" fill="#111" stroke="#111">Rock1</text>
<text x="481.7" y="729.4" font-size="15" fill="#111" stroke="#111">Ikbkb</text>
<text x="414.7" y="738.1" font-size="15" fill="#111" stroke="#111">Cdk5</text>
<text x="492.2" y="742" font-size="15" fill="#111" stroke="#111">Grk3</text>
<text x="419.4" y="758.3" font-size="15" font-weight="bold" fill="#111" stroke="#111">Mapk8</text>
<text x="470.4" y="767.8" font-size="15" fill="#111" stroke="#111">Cdk2</text>
<text x="572.8" y="733.7" font-size="15" fill="#111" stroke="#111">Prkaa2</text>
<text x="568.9" y="748.2" font-size="15" fill="#111" stroke="#111">Jak2</text>
<text x="549.2" y="762" font-size="15" fill="#111" stroke="#111">Prkcz</text>
<text x="344" y="868" font-size="18" font-weight="bold" fill="#111" stroke="#111">h</text>
<circle cx="454.8" cy="915.2" r="3.9" fill="#3a3a3a" fill-opacity="0.6"/>
<circle cx="609.6" cy="915" r="3.9" fill="#3a3a3a" fill-opacity="0.6"/>
<circle cx="427.5" cy="986.5" r="3.9" fill="#3a3a3a" fill-opacity="0.6"/>
<circle cx="492.4" cy="992.6" r="3.9" fill="#3a3a3a" fill-opacity="0.6"/>
<circle cx="460.7" cy="1007.6" r="3.9" fill="#3a3a3a" fill-opacity="0.6"/>
<circle cx="460.7" cy="1007.6" r="3.9" fill="#3a3a3a" fill-opacity="0.6"/>
<circle cx="596.4" cy="984.1" r="3.9" fill="#3a3a3a" fill-opacity="0.6"/>
<circle cx="560.7" cy="998" r="3.9" fill="#3a3a3a" fill-opacity="0.6"/>
<circle cx="567.3" cy="1010.4" r="3.9" fill="#3a3a3a" fill-opacity="0.6"/>
<circle cx="552.2" cy="1016.8" r="3.9" fill="#3a3a3a" fill-opacity="0.6"/>
<circle cx="552.2" cy="1016.8" r="3.9" fill="#3a3a3a" fill-opacity="0.6"/>
<line x1="378.8" y1="1004.1373000000001" x2="652.4000000000001" y2="1004.1373000000001" stroke="#9c9c9c" stroke-width="1.2" stroke-dasharray="3,3"/>
<line x1="515.6" y1="861.1000000000001" x2="515.6" y2="1072.7" stroke="#000" stroke-width="1.8"/>
<line x1="377.90000000000003" y1="1072.7" x2="653.3000000000001" y2="1072.7" stroke="#000" stroke-width="1.8"/>
<line x1="508.70000000000005" y1="1020.0" x2="515.6" y2="1020.0" stroke="#000" stroke-width="1.8"/>
<text x="500.4" y="1024.9" font-size="15" text-anchor="end" fill="#111" stroke="#111">1</text>
<line x1="508.70000000000005" y1="967.3000000000001" x2="515.6" y2="967.3000000000001" stroke="#000" stroke-width="1.8"/>
<text x="500.4" y="972.2" font-size="15" text-anchor="end" fill="#111" stroke="#111">2</text>
<line x1="508.70000000000005" y1="914.6" x2="515.6" y2="914.6" stroke="#000" stroke-width="1.8"/>
<text x="500.4" y="919.5" font-size="15" text-anchor="end" fill="#111" stroke="#111">3</text>
<line x1="508.70000000000005" y1="861.9000000000001" x2="515.6" y2="861.9000000000001" stroke="#000" stroke-width="1.8"/>
<text x="500.4" y="866.8000000000001" font-size="15" text-anchor="end" fill="#111" stroke="#111">4</text>
<line x1="378.8" y1="1072.7" x2="378.8" y2="1078.2" stroke="#000" stroke-width="1.8"/>
<text x="378.8" y="1093.0" font-size="15" text-anchor="middle" fill="#111" stroke="#111">-4</text>
<line x1="447.20000000000005" y1="1072.7" x2="447.20000000000005" y2="1078.2" stroke="#000" stroke-width="1.8"/>
<text x="447.20000000000005" y="1093.0" font-size="15" text-anchor="middle" fill="#111" stroke="#111">-2</text>
<line x1="515.6" y1="1072.7" x2="515.6" y2="1078.2" stroke="#000" stroke-width="1.8"/>
<text x="515.6" y="1093.0" font-size="15" text-anchor="middle" fill="#111" stroke="#111">0</text>
<line x1="584.0" y1="1072.7" x2="584.0" y2="1078.2" stroke="#000" stroke-width="1.8"/>
<text x="584.0" y="1093.0" font-size="15" text-anchor="middle" fill="#111" stroke="#111">2</text>
<line x1="652.4000000000001" y1="1072.7" x2="652.4000000000001" y2="1078.2" stroke="#000" stroke-width="1.8"/>
<text x="652.4000000000001" y="1093.0" font-size="15" text-anchor="middle" fill="#111" stroke="#111">4</text>
<text x="515.6" y="1110.9" font-size="15" text-anchor="middle" fill="#111" stroke="#111">Swing Score</text>
<text x="362.3" y="967.9" font-size="15" text-anchor="middle" fill="#111" stroke="#111" transform="rotate(-90 362.3 967.9)">-Log10 (P value)</text>
<text x="441.8" y="908.8" font-size="15" fill="#111" stroke="#111">Prkg1</text>
<text x="618" y="917.9" font-size="15" fill="#111" stroke="#111">Mapk3</text>
<text x="379.4" y="980.4" font-size="15" font-weight="bold" fill="#111" stroke="#111">Csnk1d</text>
<text x="447.4" y="987.9" font-size="15" fill="#111" stroke="#111">Rock1</text>
<text x="468.8" y="1011.5" font-size="15" fill="#111" stroke="#111">Prkaa1</text>
<text x="405.8" y="1024.1" font-size="15" fill="#111" stroke="#111">Camk2a</text>
<text x="599.1" y="980.1" font-size="15" fill="#111" stroke="#111">Mapk1</text>
<text x="564.9" y="993.3" font-size="15" fill="#111" stroke="#111">Syk</text>
<text x="574.7" y="1013" font-size="15" fill="#111" stroke="#111">Cdk5</text>
<text x="567" y="1026.1" font-size="15" fill="#111" stroke="#111">Egfr</text>
<text x="527.6" y="1030.5" font-size="15" fill="#111" stroke="#111">Cdk1</text>
</svg></body></html>
